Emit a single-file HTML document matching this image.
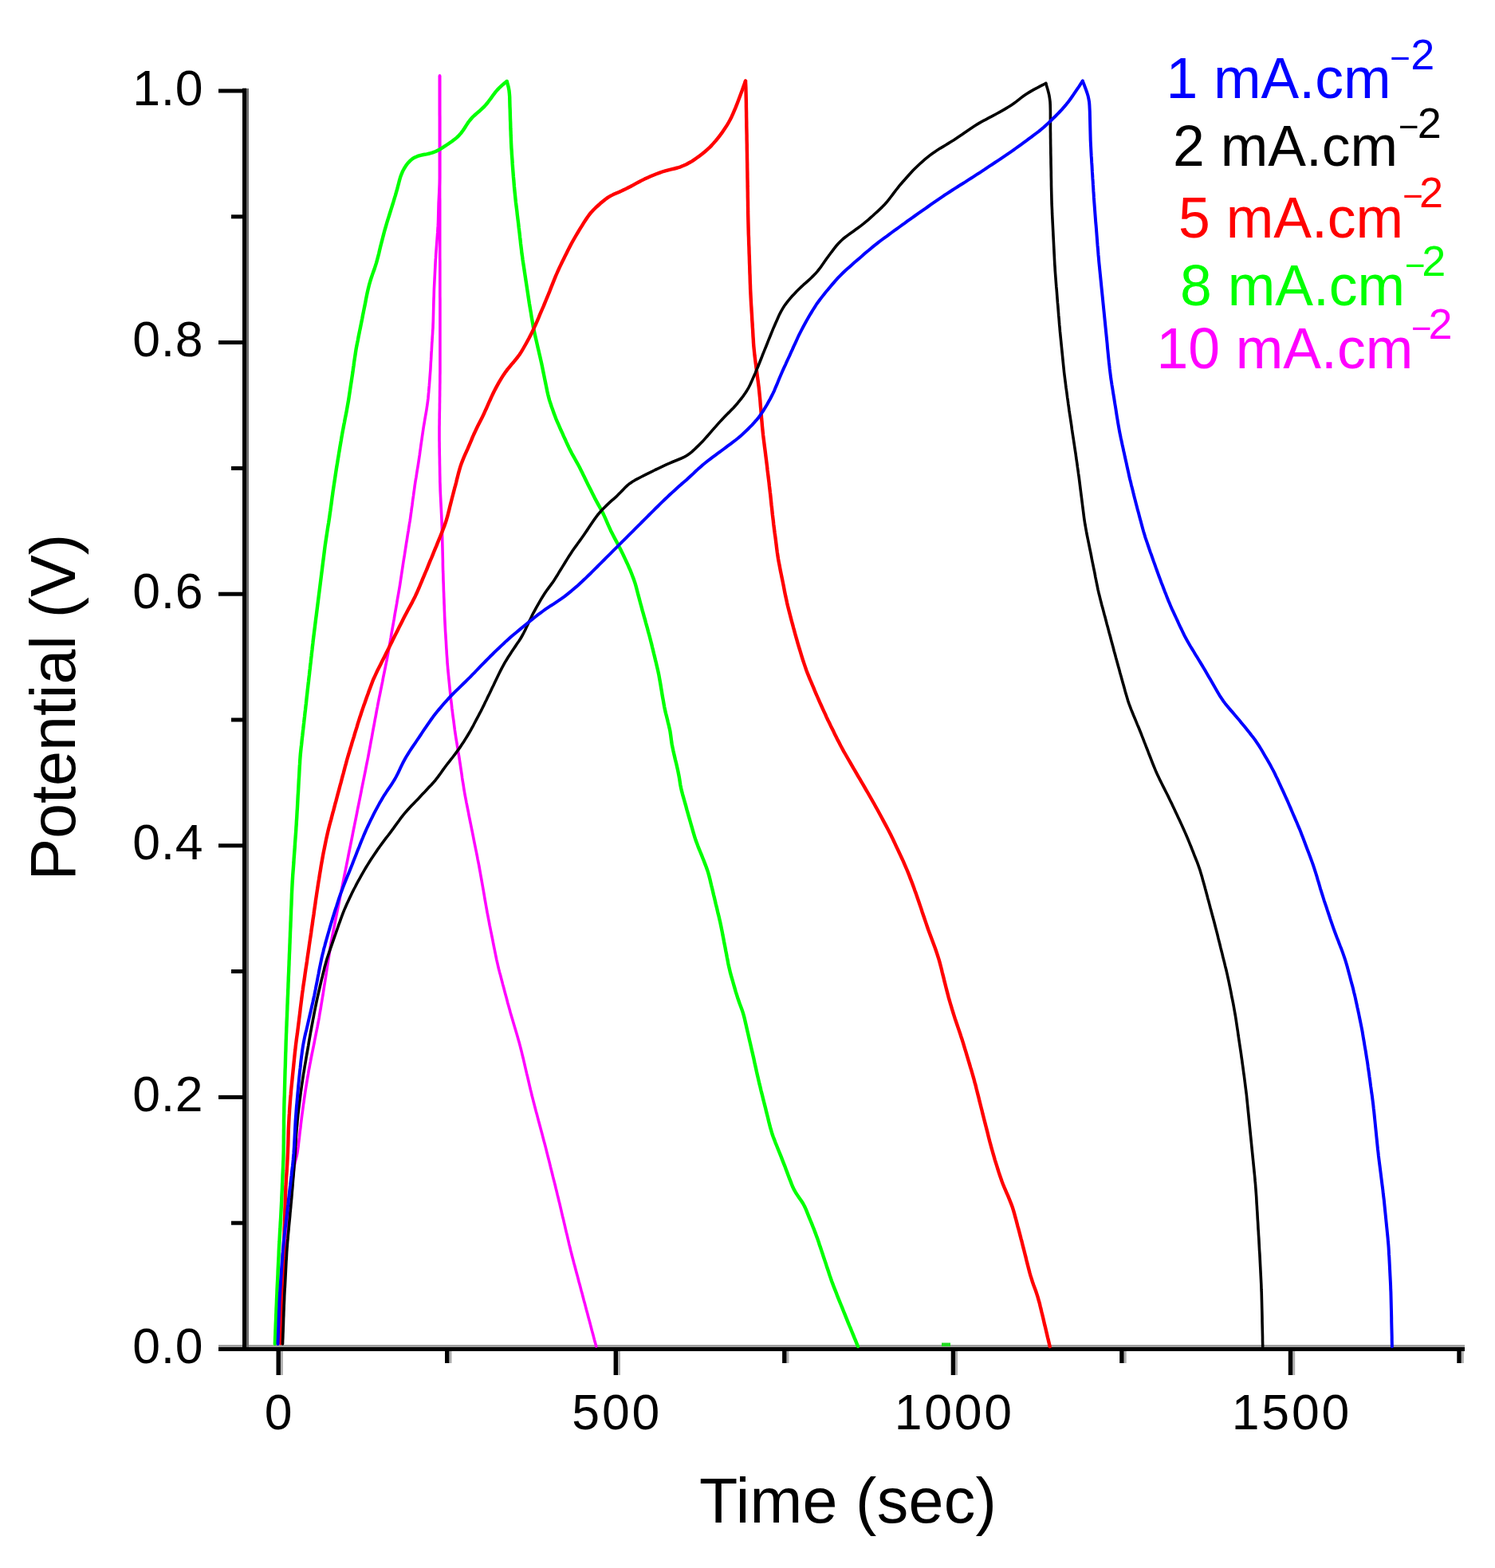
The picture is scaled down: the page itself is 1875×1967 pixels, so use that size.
<!DOCTYPE html>
<html><head><meta charset="utf-8"><style>
html,body{margin:0;padding:0;background:#fff;}
svg{display:block;}
text{font-family:"Liberation Sans",Arial,sans-serif;}
.tl{font-size:62.5px;fill:#000;}
.xl{letter-spacing:2.8px;}
.al{font-size:79px;fill:#000;}
.lg{font-size:71.5px;}
.mn{font-size:44px;}
.sp{font-size:54px;}
</style></head><body>
<svg xmlns="http://www.w3.org/2000/svg" width="1875" height="1967" viewBox="0 0 1875 1967">
<rect width="1875" height="1967" fill="#fff"/>
<rect x="274" y="1687" width="1563" height="3" fill="#a0a0a0"/>
<rect x="309" y="111" width="3" height="1579" fill="#6b6b6b"/>
<rect x="304" y="110.7" width="5" height="1584.3" fill="#000"/>
<rect x="274" y="1690" width="1563" height="5" fill="#000"/>
<text x="255" y="1709.6" text-anchor="end" class="tl" letter-spacing="0.6">0.0</text>
<rect x="290" y="1531.7" width="16" height="5" fill="#000"/>
<rect x="274" y="1373.9" width="32" height="5" fill="#000"/>
<text x="255" y="1394.0" text-anchor="end" class="tl" letter-spacing="0.6">0.2</text>
<rect x="290" y="1216.1" width="16" height="5" fill="#000"/>
<rect x="274" y="1058.3" width="32" height="5" fill="#000"/>
<text x="255" y="1078.4" text-anchor="end" class="tl" letter-spacing="0.6">0.4</text>
<rect x="290" y="900.5" width="16" height="5" fill="#000"/>
<rect x="274" y="742.7" width="32" height="5" fill="#000"/>
<text x="255" y="762.8" text-anchor="end" class="tl" letter-spacing="0.6">0.6</text>
<rect x="290" y="584.9" width="16" height="5" fill="#000"/>
<rect x="274" y="427.1" width="32" height="5" fill="#000"/>
<text x="255" y="447.2" text-anchor="end" class="tl" letter-spacing="0.6">0.8</text>
<rect x="290" y="269.3" width="16" height="5" fill="#000"/>
<rect x="274" y="111.5" width="32" height="5" fill="#000"/>
<text x="255" y="131.6" text-anchor="end" class="tl" letter-spacing="0.6">1.0</text>
<rect x="351.9" y="1695" width="3" height="30" fill="#b0b0b0"/>
<rect x="346.5" y="1695" width="5.4" height="30" fill="#000"/>
<text x="350.6" y="1793" text-anchor="middle" class="tl xl">0</text>
<rect x="563.5" y="1695" width="3" height="15" fill="#b0b0b0"/>
<rect x="558.0" y="1695" width="5.4" height="15" fill="#000"/>
<rect x="775.0" y="1695" width="3" height="30" fill="#b0b0b0"/>
<rect x="769.6" y="1695" width="5.4" height="30" fill="#000"/>
<text x="773.7" y="1793" text-anchor="middle" class="tl xl">500</text>
<rect x="986.5" y="1695" width="3" height="15" fill="#b0b0b0"/>
<rect x="981.1" y="1695" width="5.4" height="15" fill="#000"/>
<rect x="1198.1" y="1695" width="3" height="30" fill="#b0b0b0"/>
<rect x="1192.7" y="1695" width="5.4" height="30" fill="#000"/>
<text x="1196.8" y="1793" text-anchor="middle" class="tl xl">1000</text>
<rect x="1409.7" y="1695" width="3" height="15" fill="#b0b0b0"/>
<rect x="1404.2" y="1695" width="5.4" height="15" fill="#000"/>
<rect x="1621.2" y="1695" width="3" height="30" fill="#b0b0b0"/>
<rect x="1615.8" y="1695" width="5.4" height="30" fill="#000"/>
<text x="1619.9" y="1793" text-anchor="middle" class="tl xl">1500</text>
<rect x="1832.8" y="1695" width="3" height="15" fill="#b0b0b0"/>
<rect x="1827.3" y="1695" width="5.4" height="15" fill="#000"/>
<text transform="translate(94.2,887.2) rotate(-90)" text-anchor="middle" class="al">Potential (V)</text>
<text x="1063.6" y="1909.5" text-anchor="middle" class="al" letter-spacing="0.3">Time (sec)</text>
<rect x="1181" y="1684.5" width="11" height="4.5" fill="#22dd22"/>
<path d="M352.0,1685.3L352.2,1681.3L352.5,1677.3L352.7,1673.3L353.0,1669.3L353.2,1665.3L353.4,1661.3L353.7,1657.3L353.9,1653.3L354.1,1649.3L354.4,1645.3L354.6,1641.3L354.9,1637.3L355.1,1633.3L355.3,1629.3L355.6,1625.3L355.8,1621.3L356.1,1617.3L356.3,1613.3L356.5,1609.3L356.8,1605.3L357.0,1601.3L357.2,1597.3L357.5,1593.3L357.7,1589.3L358.0,1585.3L358.2,1581.3L358.4,1577.3L358.7,1573.3L358.9,1569.3L359.2,1565.3L359.4,1561.3L359.7,1557.3L360.0,1553.3L360.3,1549.3L360.7,1545.4L361.1,1541.4L361.5,1537.4L361.9,1533.4L362.3,1529.4L362.7,1525.4L363.1,1521.4L363.5,1517.5L363.9,1513.5L364.3,1509.5L364.7,1505.5L365.1,1501.5L365.5,1497.5L365.9,1493.5L366.3,1489.5L366.7,1485.6L367.1,1481.6L367.5,1477.6L367.9,1473.6L368.3,1469.6L368.7,1465.7L369.3,1461.7L370.1,1457.8L371.1,1454.0L372.1,1450.1L372.9,1446.2L373.5,1442.3L374.1,1438.3L374.5,1434.4L375.0,1430.4L375.5,1426.4L375.9,1422.4L376.4,1418.4L376.9,1414.5L377.3,1410.5L377.8,1406.5L378.3,1402.5L378.8,1398.6L379.4,1394.6L379.9,1390.6L380.4,1386.6L381.0,1382.7L381.5,1378.7L382.1,1374.7L382.7,1370.8L383.3,1366.8L383.9,1362.9L384.6,1358.9L385.2,1355.0L385.9,1351.0L386.6,1347.1L387.2,1343.1L388.0,1339.2L388.7,1335.2L389.5,1331.3L390.2,1327.4L391.0,1323.4L391.8,1319.5L392.6,1315.6L393.4,1311.7L394.2,1307.7L394.9,1303.8L395.7,1299.9L396.5,1295.9L397.3,1292.0L398.1,1288.1L398.8,1284.1L399.6,1280.2L400.3,1276.3L400.9,1272.3L401.6,1268.4L402.3,1264.4L402.9,1260.5L403.6,1256.5L404.2,1252.6L404.9,1248.6L405.5,1244.7L406.1,1240.7L406.7,1236.7L407.4,1232.8L408.0,1228.8L408.6,1224.9L409.2,1220.9L409.8,1216.9L410.4,1213.0L411.0,1209.0L411.6,1205.1L412.3,1201.1L412.9,1197.1L413.5,1193.2L414.1,1189.2L414.7,1185.3L415.4,1181.3L416.2,1177.4L416.9,1173.5L417.7,1169.5L418.5,1165.6L419.3,1161.7L420.1,1157.7L420.8,1153.8L421.6,1149.9L422.4,1146.0L423.2,1142.0L424.0,1138.1L424.8,1134.2L425.6,1130.2L426.3,1126.3L427.1,1122.4L427.9,1118.5L428.7,1114.5L429.5,1110.6L430.3,1106.7L431.1,1102.7L431.8,1098.8L432.6,1094.9L433.4,1091.0L434.2,1087.0L435.0,1083.1L435.8,1079.2L436.6,1075.2L437.3,1071.3L438.1,1067.4L438.9,1063.5L439.7,1059.5L440.5,1055.6L441.3,1051.7L442.1,1047.7L442.8,1043.8L443.6,1039.9L444.4,1036.0L445.2,1032.0L446.0,1028.1L446.8,1024.2L447.6,1020.2L448.3,1016.3L449.1,1012.4L449.9,1008.5L450.7,1004.5L451.5,1000.6L452.3,996.7L453.1,992.7L453.8,988.8L454.6,984.9L455.4,981.0L456.2,977.0L457.0,973.1L457.8,969.2L458.6,965.2L459.3,961.3L460.1,957.4L460.9,953.5L461.7,949.5L462.4,945.6L463.1,941.7L463.9,937.7L464.6,933.8L465.3,929.8L466.1,925.9L466.8,922.0L467.5,918.0L468.2,914.1L469.0,910.1L469.7,906.2L470.4,902.3L471.2,898.3L471.9,894.4L472.6,890.4L473.4,886.5L474.1,882.6L474.9,878.6L475.7,874.7L476.5,870.8L477.3,866.9L478.1,862.9L478.9,859.0L479.7,855.1L480.4,851.1L481.2,847.2L482.0,843.3L482.8,839.4L483.6,835.4L484.4,831.5L485.2,827.6L485.9,823.6L486.7,819.7L487.4,815.8L488.1,811.8L488.8,807.9L489.5,803.9L490.2,800.0L490.8,796.0L491.5,792.1L492.2,788.1L492.9,784.2L493.6,780.2L494.3,776.3L494.9,772.4L495.6,768.4L496.3,764.5L497.0,760.5L497.7,756.6L498.3,752.6L499.0,748.7L499.7,744.7L500.4,740.8L501.1,736.8L501.7,732.9L502.3,728.9L502.9,724.9L503.5,721.0L504.1,717.0L504.7,713.1L505.3,709.1L505.9,705.1L506.5,701.2L507.2,697.2L507.8,693.3L508.4,689.3L509.0,685.4L509.6,681.4L510.3,677.4L510.9,673.5L511.5,669.5L512.2,665.6L512.8,661.6L513.4,657.7L514.1,653.7L514.7,649.7L515.2,645.8L515.8,641.8L516.3,637.8L516.9,633.9L517.4,629.9L517.9,625.9L518.5,622.0L519.0,618.0L519.6,614.0L520.1,610.1L520.7,606.1L521.3,602.1L522.0,598.2L522.6,594.2L523.2,590.3L523.9,586.3L524.5,582.4L525.1,578.4L525.7,574.4L526.3,570.5L526.8,566.5L527.4,562.5L527.9,558.6L528.5,554.6L529.1,550.6L529.6,546.7L530.2,542.7L530.8,538.7L531.4,534.8L532.1,530.8L532.7,526.9L533.4,522.9L534.1,519.0L534.8,515.0L535.4,511.1L536.0,507.1L536.5,503.2L537.0,499.2L537.3,495.2L537.7,491.2L538.0,487.2L538.4,483.2L538.7,479.2L539.0,475.2L539.3,471.2L539.6,467.2L539.9,463.2L540.1,459.2L540.3,455.2L540.6,451.2L540.8,447.2L541.0,443.2L541.3,439.2L541.5,435.2L541.7,431.2L542.0,427.2L542.2,423.2L542.5,419.3L542.7,415.3L543.0,411.3L543.1,407.3L543.3,403.2L543.4,399.2L543.5,395.2L543.6,391.2L543.7,387.2L543.8,383.2L543.9,379.2L544.0,375.2L544.2,371.2L544.3,367.2L544.4,363.2L544.6,359.2L544.8,355.2L545.0,351.2L545.2,347.2L545.4,343.2L545.6,339.2L545.8,335.2L546.0,331.2L546.2,327.2L546.5,323.2L546.7,319.2L547.0,315.2L547.3,311.2L547.6,307.2L547.9,303.2L548.2,299.2L548.5,295.2L548.8,291.2L549.0,287.2L549.3,283.2L549.5,279.2L549.6,275.2L549.7,271.2L549.8,267.2L549.9,263.2L550.0,259.2L550.1,255.2L550.3,251.2L550.5,247.2L550.7,243.2L550.9,239.2L551.1,235.2L551.3,231.2L551.4,227.2L551.5,223.2L551.5,219.2L551.5,215.2L551.5,211.2L551.5,207.2L551.5,203.2L551.5,199.2L551.5,195.2L551.5,191.1L551.5,187.1L551.5,183.1L551.5,179.1L551.5,175.1L551.5,171.1L551.5,167.1L551.5,163.1L551.5,159.1L551.5,155.1L551.5,151.1L551.5,147.1L551.5,143.1L551.5,139.1L551.5,135.1L551.5,131.1L551.5,127.0L551.5,123.0L551.5,119.0L551.5,115.0L551.5,111.0L551.5,107.0L551.5,103.0L551.5,99.0L551.5,95.0" fill="none" stroke="#ff00ff" stroke-width="3.6" stroke-linejoin="round" stroke-linecap="round"/>
<path d="M551.5,95.0L551.5,99.0L551.5,103.0L551.5,107.0L551.5,111.0L551.5,115.0L551.5,119.1L551.5,123.1L551.5,127.1L551.5,131.1L551.5,135.1L551.5,139.1L551.5,143.1L551.6,147.1L551.6,151.1L551.6,155.1L551.6,159.1L551.6,163.1L551.6,167.2L551.6,171.2L551.6,175.2L551.6,179.2L551.6,183.2L551.6,187.2L551.6,191.2L551.6,195.2L551.6,199.2L551.6,203.2L551.6,207.2L551.6,211.2L551.6,215.3L551.6,219.3L551.6,223.3L551.6,227.3L551.6,231.3L551.6,235.3L551.6,239.3L551.6,243.3L551.6,247.3L551.7,251.3L551.7,255.3L551.7,259.4L551.7,263.4L551.7,267.4L551.7,271.4L551.7,275.4L551.7,279.4L551.7,283.4L551.7,287.4L551.7,291.4L551.7,295.4L551.7,299.4L551.7,303.4L551.7,307.5L551.7,311.5L551.7,315.5L551.7,319.5L551.7,323.5L551.8,327.5L551.8,331.5L551.8,335.5L551.8,339.5L551.8,343.5L551.8,347.5L551.8,351.5L551.8,355.6L551.8,359.6L551.8,363.6L551.8,367.6L551.8,371.6L551.9,375.6L551.9,379.6L551.9,383.6L551.9,387.6L551.9,391.6L551.9,395.6L551.9,399.6L551.9,403.7L551.9,407.7L551.9,411.7L551.9,415.7L551.9,419.7L551.9,423.7L551.9,427.7L551.9,431.7L551.9,435.7L551.9,439.7L551.9,443.7L551.9,447.8L551.9,451.8L551.9,455.8L551.9,459.8L551.9,463.8L551.9,467.8L551.8,471.8L551.8,475.8L551.8,479.8L551.7,483.8L551.7,487.8L551.6,491.8L551.6,495.9L551.5,499.9L551.5,503.9L551.4,507.9L551.4,511.9L551.3,515.9L551.2,519.9L551.2,523.9L551.1,527.9L551.1,531.9L551.0,535.9L551.0,539.9L551.0,544.0L551.0,548.0L551.0,552.0L551.1,556.0L551.1,560.0L551.2,564.0L551.2,568.0L551.3,572.0L551.4,576.0L551.4,580.0L551.5,584.0L551.6,588.0L551.6,592.0L551.7,596.1L551.8,600.1L551.8,604.1L552.0,608.1L552.1,612.1L552.2,616.1L552.4,620.1L552.6,624.1L552.8,628.1L553.0,632.1L553.2,636.1L553.4,640.1L553.6,644.1L553.8,648.1L554.0,652.1L554.1,656.1L554.3,660.1L554.4,664.1L554.5,668.1L554.6,672.2L554.7,676.2L554.8,680.2L554.9,684.2L555.0,688.2L555.1,692.2L555.2,696.2L555.3,700.2L555.4,704.2L555.4,708.2L555.5,712.2L555.6,716.2L555.8,720.2L555.9,724.2L556.0,728.3L556.2,732.3L556.3,736.3L556.4,740.3L556.6,744.3L556.7,748.3L556.9,752.3L557.0,756.3L557.2,760.3L557.3,764.3L557.5,768.3L557.6,772.3L557.8,776.3L558.0,780.3L558.2,784.3L558.4,788.3L558.6,792.3L558.9,796.3L559.1,800.3L559.4,804.3L559.6,808.3L559.8,812.3L560.1,816.3L560.3,820.3L560.6,824.3L560.9,828.3L561.1,832.3L561.5,836.3L561.8,840.3L562.2,844.3L562.6,848.3L563.0,852.3L563.4,856.3L563.8,860.3L564.2,864.3L564.6,868.3L565.0,872.2L565.4,876.2L565.9,880.2L566.4,884.2L566.8,888.2L567.3,892.1L567.8,896.1L568.3,900.1L568.9,904.1L569.4,908.0L569.9,912.0L570.4,916.0L571.0,920.0L571.6,923.9L572.2,927.9L572.9,931.8L573.5,935.8L574.2,939.7L574.8,943.7L575.5,947.7L576.1,951.6L576.7,955.6L577.3,959.5L577.9,963.5L578.5,967.5L579.1,971.4L579.6,975.4L580.2,979.4L580.9,983.3L581.5,987.3L582.1,991.2L582.8,995.2L583.5,999.1L584.3,1003.1L585.0,1007.0L585.8,1010.9L586.6,1014.9L587.4,1018.8L588.1,1022.7L588.9,1026.7L589.7,1030.6L590.5,1034.5L591.3,1038.5L592.1,1042.4L592.9,1046.3L593.7,1050.3L594.4,1054.2L595.2,1058.1L596.0,1062.0L596.8,1066.0L597.6,1069.9L598.4,1073.8L599.1,1077.8L599.9,1081.7L600.7,1085.6L601.4,1089.6L602.1,1093.5L602.8,1097.5L603.5,1101.4L604.2,1105.4L604.9,1109.3L605.6,1113.3L606.3,1117.2L607.0,1121.2L607.6,1125.1L608.3,1129.1L609.0,1133.0L609.7,1137.0L610.4,1140.9L611.1,1144.9L611.9,1148.8L612.6,1152.7L613.4,1156.7L614.1,1160.6L614.9,1164.5L615.7,1168.5L616.5,1172.4L617.3,1176.3L618.1,1180.3L618.8,1184.2L619.6,1188.1L620.4,1192.0L621.2,1196.0L622.0,1199.9L622.8,1203.8L623.7,1207.7L624.6,1211.6L625.5,1215.5L626.5,1219.4L627.6,1223.3L628.6,1227.2L629.6,1231.0L630.6,1234.9L631.7,1238.8L632.7,1242.7L633.7,1246.5L634.8,1250.4L635.8,1254.3L636.8,1258.2L637.9,1262.0L639.0,1265.9L640.0,1269.8L641.1,1273.6L642.3,1277.5L643.4,1281.3L644.5,1285.1L645.7,1289.0L646.8,1292.8L648.0,1296.7L649.1,1300.5L650.2,1304.4L651.3,1308.2L652.3,1312.1L653.3,1316.0L654.3,1319.9L655.2,1323.8L656.2,1327.7L657.1,1331.6L658.0,1335.5L658.9,1339.4L659.8,1343.3L660.7,1347.2L661.7,1351.1L662.6,1355.0L663.5,1358.9L664.4,1362.8L665.3,1366.7L666.3,1370.6L667.2,1374.5L668.2,1378.4L669.2,1382.2L670.2,1386.1L671.2,1390.0L672.2,1393.9L673.3,1397.7L674.3,1401.6L675.3,1405.5L676.4,1409.4L677.4,1413.2L678.4,1417.1L679.5,1421.0L680.5,1424.9L681.5,1428.7L682.5,1432.6L683.6,1436.5L684.6,1440.4L685.5,1444.2L686.5,1448.1L687.5,1452.0L688.5,1455.9L689.5,1459.8L690.4,1463.7L691.4,1467.6L692.4,1471.5L693.3,1475.4L694.3,1479.2L695.3,1483.1L696.3,1487.0L697.2,1490.9L698.2,1494.8L699.1,1498.7L700.1,1502.6L701.0,1506.5L702.0,1510.4L702.9,1514.3L703.8,1518.2L704.7,1522.1L705.6,1526.0L706.6,1529.9L707.5,1533.8L708.4,1537.7L709.3,1541.6L710.2,1545.5L711.2,1549.4L712.1,1553.3L713.0,1557.2L713.9,1561.1L714.9,1565.0L715.8,1568.9L716.8,1572.8L717.8,1576.7L718.8,1580.5L719.8,1584.4L720.9,1588.3L721.9,1592.2L722.9,1596.0L724.0,1599.9L725.0,1603.8L726.0,1607.7L727.1,1611.5L728.1,1615.4L729.1,1619.3L730.2,1623.1L731.2,1627.0L732.2,1630.9L733.3,1634.8L734.3,1638.6L735.3,1642.5L736.4,1646.4L737.4,1650.3L738.4,1654.1L739.5,1658.0L740.5,1661.9L741.5,1665.8L742.5,1669.6L743.6,1673.5L744.6,1677.4L745.6,1681.3L746.7,1685.1L747.7,1689.0" fill="none" stroke="#ff00ff" stroke-width="3.6" stroke-linejoin="round" stroke-linecap="round"/>
<path d="M344.8,1686.0L345.0,1682.0L345.1,1678.0L345.3,1674.0L345.4,1670.0L345.6,1666.0L345.7,1662.0L345.9,1658.0L346.1,1654.0L346.2,1650.0L346.4,1646.0L346.5,1642.0L346.7,1638.0L346.9,1634.0L347.0,1630.0L347.2,1626.0L347.4,1622.0L347.5,1618.0L347.7,1614.0L347.9,1610.0L348.1,1606.0L348.3,1602.0L348.5,1598.0L348.6,1594.0L348.8,1590.0L349.0,1586.0L349.2,1582.0L349.4,1578.0L349.6,1574.0L349.7,1570.0L349.9,1566.0L350.1,1562.0L350.4,1558.0L350.6,1554.0L350.8,1550.0L351.0,1546.0L351.3,1542.0L351.5,1538.0L351.7,1534.0L352.0,1530.0L352.2,1526.0L352.4,1522.0L352.6,1518.0L352.8,1514.0L353.0,1510.1L353.2,1506.1L353.3,1502.1L353.5,1498.1L353.7,1494.1L353.9,1490.1L354.0,1486.1L354.2,1482.1L354.4,1478.1L354.5,1474.1L354.7,1470.1L354.9,1466.1L355.1,1462.1L355.2,1458.1L355.4,1454.1L355.5,1450.1L355.6,1446.1L355.7,1442.1L355.7,1438.0L355.8,1434.0L355.8,1430.0L355.8,1426.0L355.9,1422.0L355.9,1418.0L356.0,1414.0L356.0,1410.0L356.0,1406.0L356.1,1402.0L356.2,1398.0L356.3,1394.0L356.3,1390.0L356.4,1386.0L356.5,1382.0L356.6,1378.0L356.8,1374.0L356.9,1370.0L357.0,1366.0L357.1,1362.0L357.2,1358.0L357.3,1354.0L357.4,1350.0L357.5,1346.0L357.6,1342.0L357.8,1338.0L357.9,1334.0L358.0,1330.0L358.1,1326.0L358.2,1322.0L358.4,1318.0L358.5,1314.0L358.6,1310.0L358.7,1306.0L358.9,1302.0L359.0,1298.0L359.2,1294.0L359.3,1290.0L359.5,1286.0L359.6,1282.0L359.8,1278.0L360.0,1274.0L360.1,1270.0L360.3,1266.0L360.4,1262.0L360.6,1258.0L360.7,1254.0L360.9,1250.0L361.1,1246.0L361.2,1242.0L361.4,1238.0L361.5,1234.0L361.7,1230.0L361.8,1226.0L362.0,1222.0L362.2,1218.0L362.3,1214.0L362.5,1210.0L362.6,1206.0L362.8,1202.0L362.9,1198.0L363.1,1194.0L363.3,1190.0L363.4,1186.0L363.6,1182.0L363.7,1178.0L363.9,1174.0L364.0,1170.0L364.2,1166.0L364.4,1162.0L364.5,1158.0L364.7,1154.0L364.8,1150.0L365.0,1146.0L365.1,1142.0L365.3,1138.0L365.5,1134.0L365.6,1130.0L365.8,1126.0L365.9,1122.0L366.1,1118.0L366.3,1114.0L366.5,1110.0L366.7,1106.0L367.0,1102.0L367.2,1098.0L367.5,1094.0L367.8,1090.0L368.1,1086.0L368.4,1082.0L368.6,1078.0L368.9,1074.0L369.2,1070.0L369.5,1066.0L369.8,1062.0L370.0,1058.1L370.3,1054.1L370.6,1050.1L370.9,1046.1L371.2,1042.1L371.4,1038.1L371.7,1034.1L371.9,1030.1L372.2,1026.1L372.4,1022.1L372.6,1018.1L372.9,1014.1L373.1,1010.1L373.3,1006.1L373.5,1002.1L373.7,998.1L374.0,994.1L374.2,990.1L374.4,986.1L374.6,982.1L374.8,978.1L375.1,974.1L375.3,970.1L375.5,966.1L375.7,962.1L376.0,958.2L376.2,954.2L376.5,950.2L376.8,946.2L377.2,942.2L377.6,938.2L378.1,934.2L378.5,930.3L378.9,926.3L379.4,922.3L379.8,918.3L380.3,914.3L380.7,910.4L381.2,906.4L381.6,902.4L382.1,898.4L382.5,894.4L383.0,890.5L383.4,886.5L383.9,882.5L384.3,878.5L384.7,874.6L385.2,870.6L385.6,866.6L386.1,862.6L386.5,858.6L387.0,854.7L387.4,850.7L387.9,846.7L388.3,842.7L388.8,838.8L389.2,834.8L389.7,830.8L390.1,826.8L390.6,822.8L391.0,818.9L391.5,814.9L391.9,810.9L392.4,806.9L392.8,803.0L393.3,799.0L393.8,795.0L394.3,791.0L394.8,787.1L395.3,783.1L395.8,779.1L396.3,775.1L396.8,771.2L397.3,767.2L397.8,763.2L398.3,759.3L398.8,755.3L399.3,751.3L399.8,747.3L400.3,743.4L400.8,739.4L401.3,735.4L401.8,731.5L402.3,727.5L402.8,723.5L403.3,719.5L403.8,715.6L404.3,711.6L404.8,707.6L405.3,703.6L405.8,699.7L406.3,695.7L406.8,691.7L407.3,687.8L407.8,683.8L408.4,679.8L409.0,675.9L409.6,671.9L410.2,668.0L410.8,664.0L411.4,660.1L412.1,656.1L412.7,652.1L413.3,648.2L413.8,644.2L414.4,640.3L414.9,636.3L415.5,632.3L416.0,628.4L416.5,624.4L417.1,620.4L417.6,616.5L418.2,612.5L418.8,608.5L419.4,604.6L420.0,600.6L420.6,596.7L421.2,592.7L421.8,588.7L422.4,584.8L423.1,580.8L423.7,576.9L424.4,572.9L425.0,569.0L425.7,565.0L426.3,561.1L427.0,557.1L427.7,553.2L428.3,549.3L429.0,545.3L429.7,541.4L430.5,537.4L431.2,533.5L432.0,529.6L432.7,525.6L433.5,521.7L434.3,517.8L435.0,513.9L435.7,509.9L436.4,506.0L437.1,502.0L437.7,498.1L438.3,494.1L438.9,490.2L439.5,486.2L440.1,482.2L440.7,478.3L441.3,474.3L441.9,470.4L442.5,466.4L443.0,462.4L443.6,458.5L444.1,454.5L444.7,450.5L445.3,446.6L445.9,442.6L446.5,438.7L447.2,434.7L448.0,430.8L448.8,426.9L449.5,423.0L450.3,419.0L451.1,415.1L451.9,411.2L452.7,407.3L453.5,403.3L454.3,399.4L455.0,395.5L455.8,391.6L456.6,387.6L457.4,383.7L458.2,379.8L458.9,375.8L459.7,371.9L460.5,368.0L461.4,364.1L462.3,360.2L463.3,356.3L464.4,352.5L465.6,348.7L466.9,344.9L468.2,341.1L469.6,337.4L470.8,333.6L472.0,329.8L473.1,325.9L474.1,322.1L475.1,318.2L476.0,314.3L476.9,310.4L477.9,306.5L478.9,302.6L479.9,298.7L480.9,294.9L481.9,291.0L483.0,287.1L484.1,283.3L485.2,279.5L486.4,275.6L487.6,271.8L488.8,268.0L490.0,264.2L491.2,260.4L492.4,256.5L493.6,252.7L494.7,248.9L495.9,245.1L497.0,241.2L498.1,237.4L499.1,233.5L500.1,229.7L501.1,225.8L502.2,222.0L503.6,218.3L505.1,214.7L507.0,211.2L509.1,207.9L511.4,204.8L514.1,201.9L517.0,199.4L520.2,197.4L523.7,195.9L527.4,194.8L531.2,194.0L535.1,193.3L538.9,192.5L542.7,191.4L546.4,190.0L549.9,188.3L553.3,186.3L556.7,184.2L560.0,182.0L563.3,179.7L566.6,177.5L569.8,175.1L572.8,172.6L575.7,169.8L578.3,166.9L580.6,163.8L582.8,160.5L584.9,157.1L587.1,153.8L589.4,150.7L592.0,147.7L594.8,145.0L597.7,142.4L600.8,139.8L603.7,137.2L606.6,134.4L609.3,131.5L611.8,128.5L614.2,125.3L616.6,122.1L618.9,118.8L621.3,115.7L623.9,112.6L626.6,109.8L629.5,107.1L632.6,104.5L635.7,102.1" fill="none" stroke="#00ff00" stroke-width="4.4" stroke-linejoin="round" stroke-linecap="round"/>
<path d="M635.7,102.1L636.8,105.9L637.8,109.8L638.5,113.7L638.9,117.6L639.2,121.6L639.3,125.6L639.4,129.6L639.5,133.6L639.7,137.7L639.8,141.7L639.9,145.7L640.0,149.7L640.2,153.7L640.3,157.7L640.4,161.7L640.6,165.7L640.7,169.7L640.9,173.7L641.0,177.7L641.2,181.7L641.4,185.7L641.7,189.7L641.9,193.7L642.2,197.7L642.5,201.7L642.7,205.7L643.0,209.7L643.3,213.7L643.6,217.7L643.9,221.7L644.3,225.7L644.6,229.7L644.9,233.7L645.3,237.7L645.7,241.7L646.1,245.7L646.5,249.7L646.9,253.7L647.4,257.6L647.9,261.6L648.4,265.6L648.8,269.6L649.3,273.6L649.8,277.5L650.3,281.5L650.7,285.5L651.2,289.5L651.7,293.5L652.1,297.5L652.6,301.4L653.0,305.4L653.5,309.4L654.0,313.4L654.4,317.4L655.0,321.3L655.5,325.3L656.1,329.3L656.7,333.2L657.3,337.2L657.9,341.2L658.5,345.1L659.1,349.1L659.7,353.1L660.3,357.0L660.9,361.0L661.5,365.0L662.1,368.9L662.7,372.9L663.3,376.8L663.9,380.8L664.6,384.8L665.2,388.7L665.9,392.7L666.5,396.6L667.2,400.6L667.9,404.5L668.6,408.5L669.3,412.4L670.1,416.3L671.0,420.3L671.9,424.2L672.8,428.1L673.7,432.0L674.6,435.9L675.5,439.8L676.4,443.7L677.3,447.6L678.2,451.5L679.1,455.4L679.9,459.3L680.7,463.3L681.5,467.2L682.3,471.1L683.1,475.1L683.9,479.0L684.7,482.9L685.5,486.8L686.3,490.8L687.2,494.7L688.2,498.6L689.2,502.4L690.5,506.2L691.7,510.0L693.1,513.8L694.4,517.6L695.8,521.3L697.2,525.1L698.8,528.8L700.4,532.4L702.0,536.1L703.6,539.8L705.3,543.4L706.9,547.1L708.6,550.7L710.2,554.4L711.9,558.0L713.6,561.7L715.4,565.3L717.2,568.8L719.2,572.3L721.1,575.8L723.1,579.3L725.0,582.8L726.9,586.3L728.7,589.9L730.5,593.5L732.2,597.1L734.0,600.7L735.7,604.3L737.5,607.9L739.3,611.5L741.1,615.1L742.9,618.7L744.7,622.3L746.5,625.9L748.4,629.4L750.3,632.9L752.3,636.4L754.2,639.9L756.1,643.5L757.8,647.1L759.4,650.7L761.0,654.4L762.6,658.1L764.2,661.7L765.9,665.4L767.7,669.0L769.5,672.5L771.4,676.1L773.3,679.6L775.1,683.2L777.0,686.7L778.8,690.3L780.6,693.9L782.3,697.5L784.0,701.1L785.7,704.7L787.4,708.4L789.0,712.1L790.6,715.7L792.1,719.5L793.5,723.2L794.9,726.9L796.2,730.7L797.4,734.6L798.4,738.4L799.4,742.3L800.4,746.2L801.5,750.1L802.5,754.0L803.5,757.8L804.6,761.7L805.6,765.6L806.7,769.4L807.8,773.3L808.9,777.1L809.9,781.0L811.0,784.9L812.1,788.7L813.1,792.6L814.2,796.5L815.2,800.3L816.2,804.2L817.2,808.1L818.1,812.0L819.1,815.9L820.0,819.8L821.0,823.7L821.9,827.6L822.9,831.5L823.8,835.4L824.7,839.3L825.6,843.2L826.4,847.1L827.1,851.1L827.8,855.0L828.5,859.0L829.1,862.9L829.8,866.9L830.4,870.8L831.1,874.8L831.8,878.7L832.5,882.7L833.2,886.6L834.0,890.5L834.9,894.5L835.9,898.3L836.9,902.2L837.8,906.1L838.8,910.0L839.7,913.9L840.5,917.8L841.1,921.8L841.6,925.7L842.1,929.7L842.7,933.7L843.5,937.6L844.3,941.5L845.2,945.4L846.1,949.3L847.0,953.2L848.0,957.1L848.9,961.0L849.8,964.9L850.6,968.8L851.4,972.8L852.1,976.7L852.7,980.7L853.3,984.6L854.1,988.5L855.0,992.4L856.0,996.3L857.1,1000.2L858.2,1004.0L859.3,1007.9L860.4,1011.7L861.4,1015.6L862.5,1019.4L863.6,1023.3L864.7,1027.2L865.8,1031.0L866.9,1034.9L868.0,1038.7L869.1,1042.6L870.2,1046.4L871.4,1050.3L872.6,1054.1L874.0,1057.8L875.4,1061.6L876.9,1065.3L878.4,1069.0L879.9,1072.7L881.4,1076.5L882.9,1080.2L884.3,1083.9L885.8,1087.7L887.1,1091.4L888.3,1095.2L889.4,1099.1L890.4,1103.0L891.3,1106.9L892.2,1110.8L893.2,1114.7L894.1,1118.6L895.0,1122.5L896.0,1126.4L896.9,1130.3L897.8,1134.2L898.8,1138.1L899.7,1142.0L900.6,1145.9L901.6,1149.8L902.5,1153.7L903.4,1157.6L904.2,1161.5L905.0,1165.4L905.8,1169.4L906.5,1173.3L907.3,1177.2L908.0,1181.2L908.8,1185.1L909.6,1189.1L910.3,1193.0L911.1,1196.9L911.8,1200.9L912.6,1204.8L913.3,1208.7L914.2,1212.7L915.1,1216.6L916.0,1220.4L917.1,1224.3L918.2,1228.2L919.3,1232.0L920.4,1235.9L921.5,1239.7L922.6,1243.6L923.8,1247.4L925.0,1251.2L926.3,1255.0L927.6,1258.8L929.0,1262.5L930.4,1266.3L931.7,1270.1L932.8,1273.9L933.8,1277.8L934.7,1281.7L935.6,1285.6L936.5,1289.5L937.4,1293.4L938.3,1297.3L939.2,1301.3L940.1,1305.2L941.0,1309.1L941.9,1313.0L942.8,1316.9L943.7,1320.8L944.6,1324.7L945.5,1328.6L946.3,1332.5L947.2,1336.4L948.1,1340.4L948.9,1344.3L949.8,1348.2L950.7,1352.1L951.6,1356.0L952.5,1359.9L953.5,1363.8L954.4,1367.7L955.4,1371.6L956.4,1375.5L957.3,1379.4L958.3,1383.2L959.3,1387.1L960.3,1391.0L961.2,1394.9L962.2,1398.8L963.2,1402.7L964.1,1406.6L965.1,1410.5L966.1,1414.4L967.2,1418.2L968.3,1422.0L969.6,1425.8L971.1,1429.6L972.5,1433.3L974.0,1437.0L975.5,1440.8L977.0,1444.5L978.5,1448.2L980.0,1451.9L981.4,1455.6L982.9,1459.4L984.4,1463.1L985.8,1466.9L987.2,1470.6L988.6,1474.4L990.0,1478.1L991.5,1481.9L992.9,1485.6L994.4,1489.3L996.2,1492.9L998.1,1496.3L1000.3,1499.6L1002.6,1502.9L1004.9,1506.2L1007.0,1509.5L1008.9,1513.0L1010.6,1516.7L1012.1,1520.4L1013.6,1524.1L1015.1,1527.8L1016.6,1531.5L1018.1,1535.2L1019.6,1539.0L1021.1,1542.7L1022.5,1546.4L1023.9,1550.2L1025.3,1553.9L1026.6,1557.7L1027.8,1561.5L1029.1,1565.3L1030.4,1569.1L1031.7,1573.0L1032.9,1576.8L1034.2,1580.6L1035.5,1584.4L1036.7,1588.2L1038.0,1592.0L1039.3,1595.8L1040.5,1599.6L1041.8,1603.4L1043.1,1607.2L1044.5,1610.9L1045.9,1614.7L1047.4,1618.4L1048.9,1622.1L1050.3,1625.9L1051.8,1629.6L1053.3,1633.3L1054.8,1637.0L1056.3,1640.7L1057.8,1644.5L1059.3,1648.2L1060.8,1651.9L1062.3,1655.6L1063.8,1659.3L1065.3,1663.0L1066.9,1666.7L1068.4,1670.5L1069.9,1674.2L1071.4,1677.9L1073.0,1681.6L1074.5,1685.3L1076.0,1689.0" fill="none" stroke="#00ff00" stroke-width="4.4" stroke-linejoin="round" stroke-linecap="round"/>
<path d="M352.0,1685.3L352.1,1681.3L352.3,1677.3L352.4,1673.3L352.5,1669.3L352.6,1665.3L352.8,1661.3L352.9,1657.3L353.0,1653.2L353.2,1649.2L353.3,1645.2L353.4,1641.2L353.5,1637.2L353.7,1633.2L353.8,1629.2L353.9,1625.2L354.1,1621.2L354.2,1617.2L354.3,1613.2L354.5,1609.2L354.6,1605.2L354.7,1601.2L354.8,1597.2L355.0,1593.1L355.1,1589.1L355.2,1585.1L355.4,1581.1L355.5,1577.1L355.6,1573.1L355.7,1569.1L355.9,1565.1L356.0,1561.1L356.1,1557.1L356.3,1553.1L356.4,1549.1L356.5,1545.1L356.6,1541.1L356.8,1537.1L356.9,1533.0L357.0,1529.0L357.2,1525.0L357.3,1521.0L357.4,1517.0L357.6,1513.0L357.7,1509.0L357.8,1505.0L357.9,1501.0L358.1,1497.0L358.3,1493.0L358.4,1489.0L358.7,1485.0L358.9,1481.0L359.1,1477.0L359.4,1473.0L359.7,1469.0L359.9,1465.0L360.2,1461.0L360.4,1457.0L360.6,1453.0L360.8,1449.0L361.0,1445.0L361.1,1441.0L361.3,1437.0L361.4,1432.9L361.5,1428.9L361.6,1424.9L361.7,1420.9L361.8,1416.9L362.0,1412.9L362.2,1408.9L362.4,1404.9L362.6,1400.9L362.9,1396.9L363.1,1392.9L363.4,1388.9L363.7,1384.9L364.0,1380.9L364.3,1376.9L364.7,1372.9L365.0,1368.9L365.4,1364.9L365.8,1360.9L366.2,1357.0L366.6,1353.0L367.0,1349.0L367.4,1345.0L367.8,1341.0L368.2,1337.0L368.6,1333.0L369.0,1329.0L369.4,1325.1L369.8,1321.1L370.3,1317.1L370.7,1313.1L371.2,1309.1L371.7,1305.1L372.2,1301.2L372.8,1297.2L373.3,1293.2L373.8,1289.2L374.3,1285.3L374.8,1281.3L375.3,1277.3L375.8,1273.3L376.3,1269.4L376.7,1265.4L377.2,1261.4L377.7,1257.4L378.2,1253.4L378.7,1249.5L379.2,1245.5L379.8,1241.5L380.3,1237.5L380.9,1233.6L381.5,1229.6L382.1,1225.6L382.6,1221.7L383.2,1217.7L383.8,1213.7L384.4,1209.8L385.0,1205.8L385.5,1201.8L386.1,1197.9L386.7,1193.9L387.3,1189.9L387.8,1186.0L388.4,1182.0L389.0,1178.0L389.6,1174.1L390.2,1170.1L390.7,1166.1L391.3,1162.2L391.9,1158.2L392.4,1154.2L393.0,1150.3L393.6,1146.3L394.1,1142.3L394.7,1138.4L395.3,1134.4L395.8,1130.4L396.4,1126.5L397.0,1122.5L397.6,1118.5L398.2,1114.6L398.8,1110.6L399.4,1106.6L400.1,1102.7L400.7,1098.7L401.3,1094.8L402.0,1090.8L402.6,1086.9L403.3,1082.9L404.0,1079.0L404.7,1075.0L405.4,1071.1L406.2,1067.1L407.0,1063.2L407.8,1059.3L408.6,1055.4L409.4,1051.4L410.3,1047.5L411.2,1043.6L412.1,1039.7L413.1,1035.8L414.1,1032.0L415.2,1028.1L416.2,1024.2L417.2,1020.3L418.3,1016.5L419.3,1012.6L420.3,1008.7L421.4,1004.9L422.4,1001.0L423.4,997.1L424.5,993.2L425.5,989.4L426.5,985.5L427.6,981.6L428.6,977.7L429.6,973.9L430.7,970.0L431.7,966.1L432.7,962.2L433.8,958.4L434.8,954.5L435.9,950.7L437.0,946.8L438.2,943.0L439.3,939.1L440.5,935.3L441.6,931.4L442.8,927.6L444.0,923.8L445.1,919.9L446.3,916.1L447.5,912.3L448.6,908.4L449.8,904.6L451.0,900.8L452.3,897.0L453.5,893.2L454.8,889.4L456.1,885.6L457.5,881.8L458.8,878.0L460.1,874.2L461.5,870.5L462.8,866.7L464.2,862.9L465.6,859.2L467.0,855.4L468.5,851.7L470.2,848.1L471.9,844.4L473.6,840.8L475.4,837.3L477.2,833.7L479.0,830.1L480.8,826.5L482.6,822.9L484.4,819.3L486.2,815.8L488.0,812.2L489.8,808.6L491.6,805.0L493.3,801.4L495.1,797.8L496.9,794.2L498.7,790.7L500.5,787.1L502.3,783.5L504.1,779.9L505.9,776.3L507.7,772.8L509.6,769.2L511.4,765.7L513.4,762.1L515.3,758.6L517.2,755.1L519.0,751.5L520.8,747.9L522.5,744.3L524.1,740.6L525.7,737.0L527.2,733.3L528.8,729.6L530.3,725.9L531.9,722.2L533.4,718.5L535.0,714.8L536.5,711.1L538.0,707.4L539.5,703.7L541.1,700.0L542.6,696.3L544.1,692.5L545.6,688.8L547.2,685.1L548.7,681.4L550.2,677.7L551.7,674.0L553.2,670.3L554.7,666.6L556.2,662.8L557.6,659.1L558.9,655.3L560.1,651.5L561.2,647.7L562.2,643.8L563.2,639.9L564.1,636.0L565.1,632.1L566.1,628.2L567.1,624.3L568.1,620.5L569.1,616.6L570.1,612.7L571.2,608.8L572.2,605.0L573.1,601.1L574.1,597.2L575.1,593.3L576.2,589.4L577.3,585.6L578.6,581.8L580.0,578.1L581.5,574.4L583.1,570.7L584.7,567.1L586.4,563.4L588.0,559.7L589.5,556.1L591.1,552.4L592.6,548.7L594.2,545.0L595.9,541.3L597.6,537.7L599.4,534.1L601.2,530.6L603.0,527.0L604.8,523.4L606.6,519.8L608.2,516.2L609.9,512.5L611.5,508.9L613.1,505.2L614.8,501.5L616.4,497.9L618.1,494.3L619.8,490.7L621.7,487.1L623.6,483.6L625.5,480.1L627.6,476.6L629.7,473.2L631.8,469.9L634.1,466.6L636.5,463.4L639.0,460.3L641.6,457.2L644.2,454.2L646.7,451.1L649.2,448.0L651.6,444.7L653.8,441.4L655.8,438.0L657.8,434.5L659.8,431.0L661.7,427.5L663.6,424.0L665.4,420.4L667.2,416.9L669.0,413.3L670.6,409.6L672.3,406.0L673.9,402.3L675.5,398.6L677.0,394.9L678.6,391.2L680.2,387.5L681.8,383.9L683.3,380.2L684.8,376.5L686.4,372.7L687.9,369.0L689.4,365.3L690.8,361.6L692.3,357.9L693.8,354.1L695.3,350.4L696.8,346.7L698.4,343.0L700.0,339.4L701.7,335.7L703.4,332.1L705.1,328.5L706.9,324.9L708.7,321.3L710.5,317.7L712.3,314.1L714.1,310.6L715.9,307.0L717.8,303.5L719.8,300.0L721.8,296.5L723.8,293.1L725.9,289.6L728.0,286.2L730.1,282.8L732.2,279.4L734.4,276.0L736.6,272.7L738.9,269.5L741.4,266.4L744.1,263.5L746.9,260.7L749.9,258.0L752.8,255.3L755.9,252.7L759.0,250.2L762.2,247.9L765.5,245.9L769.0,244.1L772.6,242.5L776.3,240.9L780.0,239.3L783.6,237.6L787.2,235.8L790.7,234.0L794.2,232.1L797.7,230.1L801.3,228.2L804.8,226.4L808.4,224.6L812.0,222.9L815.7,221.3L819.4,219.8L823.1,218.3L826.9,216.9L830.6,215.5L834.4,214.3L838.2,213.3L842.1,212.4L845.9,211.5L849.7,210.5L853.5,209.3L857.1,207.8L860.7,206.2L864.2,204.3L867.7,202.3L871.0,200.1L874.3,197.8L877.5,195.4L880.7,193.0L883.8,190.5L886.8,187.9L889.8,185.2L892.5,182.4L895.2,179.4L897.8,176.4L900.3,173.3L902.8,170.1L905.2,166.9L907.5,163.6L909.7,160.3L911.9,156.9L913.9,153.5L915.8,150.0L917.6,146.4L919.2,142.8L920.8,139.1L922.4,135.4L923.9,131.7L925.3,127.9L926.7,124.2L928.1,120.4L929.5,116.7L930.9,112.9L932.3,109.1L933.6,105.4L935.0,101.6" fill="none" stroke="#ff0000" stroke-width="4.4" stroke-linejoin="round" stroke-linecap="round"/>
<path d="M935.0,101.6L935.2,105.6L935.4,109.6L935.5,113.6L935.6,117.6L935.7,121.6L935.8,125.6L935.9,129.6L935.9,133.7L936.0,137.7L936.1,141.7L936.1,145.7L936.2,149.7L936.3,153.7L936.3,157.7L936.4,161.7L936.5,165.7L936.6,169.7L936.6,173.7L936.7,177.7L936.8,181.8L936.8,185.8L936.9,189.8L937.0,193.8L937.0,197.8L937.1,201.8L937.2,205.8L937.2,209.8L937.3,213.8L937.4,217.8L937.4,221.8L937.5,225.8L937.6,229.9L937.6,233.9L937.7,237.9L937.8,241.9L937.8,245.9L937.9,249.9L938.0,253.9L938.0,257.9L938.1,261.9L938.1,265.9L938.2,269.9L938.3,273.9L938.4,278.0L938.5,282.0L938.6,286.0L938.7,290.0L938.8,294.0L939.0,298.0L939.1,302.0L939.2,306.0L939.4,310.0L939.5,314.0L939.6,318.0L939.8,322.0L939.9,326.0L940.0,330.0L940.2,334.0L940.3,338.1L940.4,342.1L940.6,346.1L940.7,350.1L940.8,354.1L941.0,358.1L941.1,362.1L941.3,366.1L941.5,370.1L941.7,374.1L941.9,378.1L942.1,382.1L942.4,386.1L942.6,390.1L942.9,394.1L943.1,398.1L943.3,402.1L943.6,406.1L943.8,410.1L944.1,414.1L944.3,418.1L944.5,422.1L944.8,426.1L945.0,430.1L945.3,434.1L945.7,438.1L946.1,442.1L946.5,446.1L947.0,450.1L947.5,454.0L948.0,458.0L948.5,462.0L949.1,466.0L949.6,469.9L950.1,473.9L950.7,477.9L951.2,481.9L951.7,485.8L952.1,489.8L952.5,493.8L952.9,497.8L953.3,501.8L953.6,505.8L953.9,509.8L954.3,513.8L954.6,517.8L954.9,521.8L955.2,525.8L955.6,529.8L955.9,533.8L956.3,537.7L956.7,541.7L957.1,545.7L957.6,549.7L958.1,553.7L958.6,557.7L959.1,561.6L959.6,565.6L960.1,569.6L960.6,573.6L961.1,577.5L961.6,581.5L962.1,585.5L962.5,589.5L963.0,593.5L963.5,597.4L964.0,601.4L964.5,605.4L964.9,609.4L965.4,613.4L965.8,617.3L966.3,621.3L966.7,625.3L967.1,629.3L967.5,633.3L968.0,637.3L968.4,641.3L968.8,645.3L969.3,649.2L969.8,653.2L970.2,657.2L970.7,661.2L971.2,665.1L971.7,669.1L972.3,673.1L972.8,677.1L973.3,681.1L973.8,685.0L974.3,689.0L974.8,693.0L975.4,696.9L976.0,700.9L976.7,704.8L977.5,708.8L978.2,712.7L979.0,716.7L979.8,720.6L980.6,724.5L981.4,728.4L982.2,732.4L983.0,736.3L983.7,740.2L984.5,744.2L985.3,748.1L986.2,752.0L987.0,755.9L987.9,759.8L988.9,763.7L989.9,767.6L990.9,771.5L991.9,775.4L992.9,779.2L994.0,783.1L995.0,787.0L996.1,790.9L997.1,794.7L998.2,798.6L999.3,802.4L1000.4,806.3L1001.5,810.1L1002.7,814.0L1003.9,817.8L1005.0,821.6L1006.2,825.5L1007.4,829.3L1008.7,833.1L1010.0,836.9L1011.3,840.7L1012.7,844.4L1014.2,848.1L1015.7,851.8L1017.3,855.5L1018.8,859.2L1020.4,862.9L1021.9,866.6L1023.5,870.3L1025.1,874.0L1026.7,877.7L1028.3,881.3L1030.0,885.0L1031.6,888.6L1033.3,892.3L1035.0,895.9L1036.6,899.6L1038.3,903.2L1040.1,906.8L1041.8,910.4L1043.6,914.0L1045.4,917.6L1047.1,921.2L1048.9,924.8L1050.7,928.4L1052.6,931.9L1054.4,935.5L1056.3,939.0L1058.2,942.6L1060.2,946.0L1062.2,949.5L1064.2,953.0L1066.2,956.4L1068.2,959.9L1070.2,963.4L1072.3,966.8L1074.3,970.3L1076.3,973.8L1078.3,977.2L1080.3,980.7L1082.4,984.1L1084.4,987.6L1086.4,991.1L1088.4,994.5L1090.4,998.0L1092.4,1001.5L1094.4,1005.0L1096.4,1008.5L1098.3,1012.0L1100.3,1015.5L1102.2,1019.0L1104.1,1022.5L1106.0,1026.0L1107.9,1029.6L1109.8,1033.1L1111.7,1036.6L1113.6,1040.2L1115.4,1043.7L1117.2,1047.3L1119.0,1050.9L1120.7,1054.5L1122.4,1058.1L1124.1,1061.8L1125.8,1065.4L1127.5,1069.0L1129.2,1072.7L1130.9,1076.3L1132.6,1079.9L1134.2,1083.6L1135.8,1087.3L1137.4,1091.0L1138.9,1094.7L1140.4,1098.4L1141.8,1102.1L1143.3,1105.9L1144.7,1109.6L1146.1,1113.4L1147.4,1117.2L1148.8,1120.9L1150.1,1124.7L1151.4,1128.5L1152.7,1132.3L1154.0,1136.1L1155.3,1139.9L1156.5,1143.7L1157.8,1147.5L1159.1,1151.3L1160.4,1155.1L1161.7,1158.9L1163.0,1162.7L1164.3,1166.5L1165.7,1170.2L1167.1,1174.0L1168.5,1177.7L1169.9,1181.5L1171.3,1185.3L1172.7,1189.0L1174.0,1192.8L1175.3,1196.6L1176.5,1200.4L1177.7,1204.2L1178.8,1208.1L1179.8,1212.0L1180.8,1215.8L1181.7,1219.7L1182.7,1223.6L1183.7,1227.5L1184.6,1231.4L1185.6,1235.3L1186.6,1239.2L1187.6,1243.1L1188.6,1246.9L1189.6,1250.8L1190.7,1254.7L1191.8,1258.5L1193.0,1262.4L1194.1,1266.2L1195.3,1270.0L1196.5,1273.9L1197.7,1277.7L1199.0,1281.5L1200.3,1285.3L1201.6,1289.1L1202.9,1292.9L1204.2,1296.7L1205.4,1300.5L1206.7,1304.3L1207.9,1308.1L1209.0,1311.9L1210.2,1315.8L1211.4,1319.6L1212.5,1323.4L1213.7,1327.3L1214.8,1331.1L1216.0,1335.0L1217.1,1338.8L1218.3,1342.6L1219.4,1346.5L1220.5,1350.3L1221.6,1354.2L1222.6,1358.1L1223.7,1361.9L1224.6,1365.8L1225.6,1369.7L1226.6,1373.6L1227.6,1377.5L1228.5,1381.4L1229.5,1385.3L1230.5,1389.2L1231.5,1393.0L1232.4,1396.9L1233.4,1400.8L1234.4,1404.7L1235.4,1408.6L1236.4,1412.5L1237.4,1416.4L1238.4,1420.3L1239.3,1424.1L1240.3,1428.0L1241.3,1431.9L1242.4,1435.8L1243.4,1439.6L1244.5,1443.5L1245.6,1447.4L1246.7,1451.2L1247.8,1455.1L1249.0,1458.9L1250.2,1462.7L1251.4,1466.5L1252.6,1470.4L1253.9,1474.2L1255.2,1477.9L1256.5,1481.7L1257.9,1485.5L1259.4,1489.2L1261.0,1492.9L1262.6,1496.6L1264.2,1500.2L1265.7,1503.9L1267.2,1507.6L1268.7,1511.4L1270.0,1515.1L1271.2,1519.0L1272.3,1522.8L1273.3,1526.7L1274.4,1530.5L1275.4,1534.4L1276.4,1538.3L1277.5,1542.2L1278.5,1546.0L1279.5,1549.9L1280.5,1553.8L1281.6,1557.7L1282.5,1561.5L1283.5,1565.4L1284.5,1569.3L1285.5,1573.2L1286.5,1577.1L1287.4,1581.0L1288.4,1584.9L1289.4,1588.8L1290.4,1592.6L1291.4,1596.5L1292.5,1600.4L1293.7,1604.2L1294.9,1608.0L1296.2,1611.8L1297.6,1615.6L1299.0,1619.3L1300.3,1623.1L1301.5,1626.9L1302.6,1630.8L1303.7,1634.6L1304.6,1638.5L1305.6,1642.4L1306.5,1646.3L1307.5,1650.2L1308.4,1654.1L1309.3,1658.0L1310.2,1661.9L1311.2,1665.8L1312.1,1669.7L1313.0,1673.6L1313.9,1677.5L1314.9,1681.4L1315.8,1685.3L1316.7,1689.2" fill="none" stroke="#ff0000" stroke-width="4.4" stroke-linejoin="round" stroke-linecap="round"/>
<path d="M354.5,1686.0L354.6,1682.0L354.8,1678.0L354.9,1674.0L355.1,1670.0L355.2,1666.0L355.4,1662.0L355.5,1658.0L355.6,1654.0L355.8,1650.0L355.9,1646.0L356.1,1642.0L356.2,1638.0L356.4,1634.0L356.6,1630.0L356.7,1626.0L356.9,1622.0L357.1,1618.0L357.4,1614.0L357.6,1610.0L357.8,1606.0L358.0,1602.0L358.2,1598.0L358.4,1594.0L358.6,1590.0L358.8,1586.0L359.0,1582.0L359.3,1578.0L359.5,1574.0L359.7,1570.0L360.0,1566.0L360.3,1562.0L360.6,1558.0L361.0,1554.0L361.3,1550.0L361.7,1546.1L362.1,1542.1L362.4,1538.1L362.8,1534.1L363.2,1530.1L363.6,1526.1L363.9,1522.1L364.3,1518.1L364.7,1514.2L365.0,1510.2L365.4,1506.2L365.8,1502.2L366.1,1498.2L366.4,1494.2L366.8,1490.2L367.1,1486.2L367.4,1482.2L367.7,1478.3L368.1,1474.3L368.4,1470.3L368.7,1466.3L369.0,1462.3L369.3,1458.3L369.6,1454.3L369.9,1450.3L370.2,1446.3L370.4,1442.3L370.6,1438.3L370.9,1434.3L371.1,1430.3L371.3,1426.3L371.6,1422.3L371.9,1418.3L372.3,1414.4L372.7,1410.4L373.0,1406.4L373.4,1402.4L373.8,1398.4L374.3,1394.4L374.7,1390.5L375.2,1386.5L375.7,1382.5L376.2,1378.5L376.7,1374.6L377.2,1370.6L377.8,1366.6L378.3,1362.7L378.9,1358.7L379.5,1354.7L380.1,1350.8L380.7,1346.8L381.4,1342.9L382.0,1338.9L382.7,1335.0L383.4,1331.0L384.0,1327.1L384.7,1323.1L385.4,1319.2L386.1,1315.2L386.8,1311.3L387.4,1307.4L388.1,1303.4L388.8,1299.5L389.5,1295.5L390.2,1291.6L390.9,1287.6L391.7,1283.7L392.4,1279.8L393.2,1275.8L393.9,1271.9L394.7,1268.0L395.5,1264.0L396.3,1260.1L397.1,1256.2L397.9,1252.3L398.8,1248.4L399.7,1244.5L400.6,1240.6L401.5,1236.7L402.4,1232.8L403.3,1228.9L404.3,1225.0L405.2,1221.1L406.2,1217.2L407.1,1213.3L408.2,1209.5L409.3,1205.6L410.4,1201.8L411.7,1198.0L413.0,1194.2L414.3,1190.4L415.6,1186.6L416.9,1182.8L418.2,1179.1L419.5,1175.3L420.9,1171.5L422.2,1167.7L423.5,1164.0L424.8,1160.2L426.2,1156.4L427.5,1152.6L428.9,1148.9L430.3,1145.1L431.8,1141.4L433.4,1137.7L435.0,1134.1L436.7,1130.4L438.4,1126.8L440.1,1123.2L441.8,1119.6L443.6,1116.0L445.5,1112.5L447.3,1108.9L449.2,1105.4L451.2,1101.9L453.1,1098.4L455.1,1094.9L457.1,1091.4L459.1,1088.0L461.2,1084.6L463.3,1081.2L465.5,1077.8L467.7,1074.5L469.9,1071.2L472.2,1067.9L474.4,1064.6L476.8,1061.3L479.1,1058.1L481.5,1054.9L483.9,1051.7L486.4,1048.5L488.8,1045.3L491.2,1042.1L493.6,1038.9L495.9,1035.6L498.3,1032.4L500.6,1029.2L503.0,1025.9L505.4,1022.8L508.0,1019.7L510.6,1016.7L513.3,1013.7L516.0,1010.8L518.8,1007.9L521.6,1005.1L524.4,1002.2L527.1,999.3L529.8,996.3L532.6,993.4L535.3,990.5L538.0,987.6L540.8,984.7L543.5,981.7L546.1,978.7L548.5,975.6L550.9,972.4L553.2,969.2L555.5,965.9L557.8,962.7L560.2,959.5L562.7,956.3L565.2,953.2L567.7,950.0L570.1,946.9L572.5,943.7L574.9,940.4L577.2,937.1L579.4,933.8L581.6,930.5L583.7,927.1L585.8,923.7L587.9,920.2L589.9,916.8L591.8,913.3L593.8,909.8L595.6,906.3L597.5,902.7L599.4,899.2L601.2,895.6L603.1,892.1L604.9,888.5L606.7,884.9L608.4,881.3L610.2,877.7L611.9,874.1L613.7,870.5L615.4,866.9L617.1,863.3L618.9,859.7L620.6,856.1L622.3,852.5L624.1,848.8L625.8,845.2L627.6,841.6L629.4,838.1L631.3,834.6L633.2,831.1L635.3,827.7L637.4,824.3L639.6,820.9L641.8,817.6L644.0,814.2L646.3,810.9L648.5,807.6L650.8,804.3L652.9,801.0L654.9,797.5L656.8,794.0L658.6,790.5L660.3,786.8L662.0,783.2L663.7,779.6L665.5,776.0L667.2,772.4L669.0,768.8L670.9,765.3L672.8,761.8L674.8,758.3L676.8,754.8L678.8,751.4L680.9,748.0L683.1,744.6L685.3,741.3L687.6,738.1L690.0,734.9L692.4,731.7L694.6,728.4L696.8,725.0L699.0,721.6L701.0,718.2L703.1,714.8L705.2,711.4L707.3,708.0L709.4,704.5L711.5,701.1L713.6,697.8L715.8,694.4L718.0,691.1L720.3,687.8L722.6,684.6L725.0,681.3L727.3,678.1L729.7,674.8L732.0,671.5L734.2,668.2L736.5,664.9L738.7,661.6L740.9,658.2L743.1,654.9L745.4,651.6L747.8,648.4L750.2,645.2L752.8,642.2L755.4,639.2L758.2,636.4L761.1,633.6L764.0,630.9L767.0,628.2L770.0,625.6L773.0,622.9L775.8,620.1L778.6,617.3L781.3,614.4L784.1,611.6L786.9,608.9L790.0,606.4L793.2,604.2L796.6,602.2L800.1,600.3L803.7,598.5L807.3,596.7L810.8,594.9L814.4,593.1L818.0,591.3L821.6,589.5L825.2,587.8L828.8,586.1L832.4,584.4L836.1,582.7L839.7,581.1L843.4,579.5L847.1,578.0L850.8,576.5L854.4,575.0L858.0,573.4L861.3,571.5L864.5,569.3L867.6,566.8L870.5,564.2L873.4,561.4L876.3,558.6L879.1,555.8L881.9,552.9L884.6,549.9L887.2,547.0L889.9,543.9L892.5,540.9L895.1,537.9L897.8,534.9L900.4,531.9L903.1,528.9L905.8,526.0L908.6,523.1L911.3,520.2L914.2,517.4L917.0,514.5L919.8,511.7L922.5,508.7L925.1,505.7L927.6,502.6L930.1,499.5L932.5,496.3L934.8,493.0L936.9,489.7L938.9,486.3L940.7,482.7L942.4,479.1L944.0,475.4L945.6,471.8L947.2,468.1L948.7,464.4L950.3,460.7L951.8,457.0L953.3,453.3L954.8,449.5L956.2,445.8L957.7,442.1L959.2,438.4L960.7,434.7L962.2,431.0L963.7,427.2L965.2,423.5L966.7,419.8L968.2,416.1L969.7,412.4L971.3,408.7L972.9,405.0L974.5,401.4L976.1,397.7L977.8,394.1L979.6,390.6L981.6,387.1L983.7,383.8L986.0,380.6L988.5,377.4L991.0,374.4L993.7,371.3L996.4,368.4L999.1,365.5L1001.9,362.7L1004.9,359.9L1007.8,357.2L1010.8,354.6L1013.8,351.9L1016.7,349.2L1019.6,346.4L1022.4,343.6L1025.0,340.6L1027.5,337.5L1029.9,334.3L1032.2,331.0L1034.4,327.8L1036.7,324.5L1039.1,321.2L1041.5,318.0L1043.9,314.8L1046.3,311.6L1048.8,308.5L1051.4,305.5L1054.1,302.7L1057.0,300.0L1060.1,297.5L1063.3,295.1L1066.5,292.7L1069.8,290.4L1073.1,288.1L1076.3,285.8L1079.5,283.4L1082.7,280.9L1085.7,278.4L1088.8,275.8L1091.8,273.1L1094.8,270.5L1097.7,267.8L1100.7,265.1L1103.6,262.4L1106.5,259.6L1109.3,256.7L1111.9,253.8L1114.5,250.7L1116.9,247.5L1119.3,244.3L1121.7,241.1L1124.1,238.0L1126.6,234.8L1129.1,231.7L1131.7,228.7L1134.4,225.7L1137.0,222.7L1139.7,219.7L1142.4,216.8L1145.1,213.8L1147.9,211.0L1150.8,208.2L1153.7,205.5L1156.7,202.8L1159.7,200.2L1162.8,197.6L1165.9,195.1L1169.1,192.7L1172.4,190.4L1175.7,188.3L1179.1,186.1L1182.5,184.1L1186.0,182.0L1189.4,179.9L1192.8,177.8L1196.2,175.7L1199.5,173.5L1202.8,171.3L1206.2,169.0L1209.4,166.7L1212.7,164.4L1216.0,162.2L1219.3,159.9L1222.7,157.7L1226.1,155.6L1229.5,153.6L1233.0,151.7L1236.6,149.8L1240.1,147.9L1243.6,146.1L1247.2,144.2L1250.7,142.2L1254.2,140.3L1257.7,138.4L1261.1,136.4L1264.6,134.3L1267.9,132.2L1271.2,129.9L1274.4,127.6L1277.6,125.1L1280.7,122.7L1283.9,120.3L1287.2,118.0L1290.6,115.9L1294.0,113.9L1297.5,111.9L1301.0,110.1L1304.6,108.2L1308.1,106.3L1311.7,104.5" fill="none" stroke="#000000" stroke-width="3.6" stroke-linejoin="round" stroke-linecap="round"/>
<path d="M1311.7,104.5L1312.8,108.3L1314.0,112.2L1315.0,116.0L1315.9,119.9L1316.5,123.8L1317.0,127.7L1317.2,131.7L1317.3,135.7L1317.4,139.7L1317.4,143.7L1317.4,147.7L1317.4,151.7L1317.4,155.7L1317.4,159.7L1317.4,163.7L1317.5,167.7L1317.5,171.7L1317.6,175.7L1317.6,179.7L1317.7,183.7L1317.8,187.7L1317.8,191.7L1317.9,195.7L1318.0,199.7L1318.0,203.7L1318.1,207.7L1318.2,211.7L1318.3,215.7L1318.3,219.7L1318.4,223.7L1318.5,227.7L1318.5,231.7L1318.6,235.7L1318.7,239.7L1318.8,243.7L1318.9,247.7L1319.0,251.7L1319.1,255.7L1319.3,259.7L1319.5,263.7L1319.6,267.7L1319.8,271.7L1320.0,275.7L1320.2,279.7L1320.4,283.6L1320.6,287.6L1320.8,291.6L1321.0,295.6L1321.2,299.6L1321.4,303.6L1321.6,307.6L1321.8,311.6L1322.0,315.6L1322.2,319.6L1322.4,323.6L1322.6,327.6L1322.8,331.6L1323.1,335.6L1323.3,339.6L1323.6,343.6L1323.9,347.6L1324.2,351.6L1324.5,355.5L1324.8,359.5L1325.2,363.5L1325.5,367.5L1325.8,371.5L1326.1,375.5L1326.4,379.5L1326.8,383.5L1327.1,387.5L1327.4,391.4L1327.7,395.4L1328.1,399.4L1328.4,403.4L1328.7,407.4L1329.1,411.4L1329.4,415.4L1329.8,419.3L1330.2,423.3L1330.6,427.3L1331.0,431.3L1331.4,435.3L1331.8,439.3L1332.2,443.2L1332.6,447.2L1333.0,451.2L1333.4,455.2L1333.8,459.2L1334.2,463.1L1334.6,467.1L1335.1,471.1L1335.6,475.1L1336.1,479.0L1336.6,483.0L1337.1,487.0L1337.7,490.9L1338.2,494.9L1338.7,498.9L1339.3,502.8L1339.8,506.8L1340.4,510.7L1340.9,514.7L1341.5,518.7L1342.1,522.6L1342.7,526.6L1343.3,530.5L1343.9,534.5L1344.4,538.5L1345.0,542.4L1345.6,546.4L1346.2,550.3L1346.8,554.3L1347.4,558.2L1348.0,562.2L1348.6,566.2L1349.2,570.1L1349.7,574.1L1350.3,578.0L1350.9,582.0L1351.4,586.0L1352.0,589.9L1352.5,593.9L1353.1,597.8L1353.6,601.8L1354.1,605.8L1354.6,609.8L1355.1,613.7L1355.6,617.7L1356.1,621.7L1356.6,625.6L1357.1,629.6L1357.6,633.6L1358.1,637.5L1358.6,641.5L1359.1,645.5L1359.6,649.4L1360.2,653.4L1360.8,657.4L1361.5,661.3L1362.2,665.2L1362.9,669.2L1363.7,673.1L1364.5,677.0L1365.3,680.9L1366.1,684.9L1366.9,688.8L1367.7,692.7L1368.5,696.6L1369.2,700.5L1370.0,704.5L1370.8,708.4L1371.6,712.3L1372.4,716.2L1373.2,720.2L1373.9,724.1L1374.7,728.0L1375.5,731.9L1376.3,735.8L1377.1,739.8L1378.0,743.7L1379.0,747.6L1379.9,751.4L1380.9,755.3L1381.9,759.2L1383.0,763.0L1384.0,766.9L1385.0,770.8L1386.1,774.6L1387.1,778.5L1388.1,782.4L1389.2,786.2L1390.2,790.1L1391.2,794.0L1392.3,797.8L1393.3,801.7L1394.3,805.6L1395.4,809.4L1396.4,813.3L1397.4,817.2L1398.5,821.0L1399.5,824.9L1400.6,828.7L1401.6,832.6L1402.7,836.5L1403.8,840.3L1404.8,844.2L1405.9,848.0L1407.0,851.9L1408.0,855.7L1409.1,859.6L1410.2,863.4L1411.2,867.3L1412.3,871.1L1413.5,875.0L1414.6,878.8L1415.9,882.6L1417.3,886.3L1418.7,890.1L1420.2,893.8L1421.7,897.5L1423.3,901.2L1424.8,904.9L1426.3,908.6L1427.9,912.3L1429.4,916.0L1430.9,919.7L1432.3,923.4L1433.8,927.1L1435.2,930.9L1436.7,934.6L1438.1,938.3L1439.6,942.0L1441.0,945.8L1442.5,949.5L1443.9,953.2L1445.4,957.0L1446.9,960.7L1448.4,964.4L1449.9,968.1L1451.6,971.7L1453.3,975.3L1455.0,978.9L1456.8,982.5L1458.6,986.1L1460.4,989.6L1462.2,993.2L1464.0,996.8L1465.8,1000.4L1467.5,1004.0L1469.3,1007.6L1471.0,1011.2L1472.7,1014.8L1474.4,1018.4L1476.1,1022.0L1477.8,1025.7L1479.5,1029.3L1481.2,1032.9L1482.8,1036.6L1484.5,1040.2L1486.1,1043.9L1487.7,1047.5L1489.3,1051.2L1490.8,1054.9L1492.3,1058.6L1493.8,1062.3L1495.3,1066.1L1496.8,1069.8L1498.2,1073.5L1499.7,1077.2L1501.2,1080.9L1502.6,1084.7L1503.9,1088.4L1505.2,1092.2L1506.3,1096.0L1507.5,1099.9L1508.5,1103.7L1509.6,1107.6L1510.7,1111.4L1511.7,1115.3L1512.8,1119.2L1513.8,1123.0L1514.8,1126.9L1515.9,1130.8L1516.9,1134.6L1517.9,1138.5L1519.0,1142.4L1520.0,1146.2L1521.0,1150.1L1522.1,1154.0L1523.1,1157.8L1524.1,1161.7L1525.1,1165.6L1526.1,1169.4L1527.1,1173.3L1528.0,1177.2L1529.0,1181.1L1530.0,1185.0L1530.9,1188.9L1531.9,1192.7L1532.9,1196.6L1533.8,1200.5L1534.8,1204.4L1535.8,1208.3L1536.7,1212.2L1537.7,1216.0L1538.6,1219.9L1539.5,1223.8L1540.3,1227.7L1541.2,1231.7L1542.0,1235.6L1542.8,1239.5L1543.6,1243.4L1544.3,1247.3L1545.1,1251.3L1545.9,1255.2L1546.7,1259.1L1547.4,1263.0L1548.1,1267.0L1548.8,1270.9L1549.5,1274.9L1550.1,1278.8L1550.7,1282.8L1551.3,1286.7L1551.9,1290.7L1552.5,1294.6L1553.0,1298.6L1553.6,1302.6L1554.2,1306.5L1554.8,1310.5L1555.4,1314.4L1556.0,1318.4L1556.6,1322.4L1557.1,1326.3L1557.7,1330.3L1558.2,1334.2L1558.8,1338.2L1559.3,1342.2L1559.8,1346.1L1560.4,1350.1L1560.9,1354.1L1561.4,1358.0L1561.9,1362.0L1562.4,1366.0L1562.9,1369.9L1563.4,1373.9L1563.8,1377.9L1564.2,1381.9L1564.6,1385.9L1565.0,1389.8L1565.4,1393.8L1565.8,1397.8L1566.2,1401.8L1566.6,1405.8L1567.0,1409.7L1567.4,1413.7L1567.8,1417.7L1568.2,1421.7L1568.6,1425.7L1569.0,1429.6L1569.4,1433.6L1569.8,1437.6L1570.2,1441.6L1570.6,1445.6L1571.0,1449.6L1571.4,1453.5L1571.8,1457.5L1572.2,1461.5L1572.6,1465.5L1573.0,1469.5L1573.4,1473.4L1573.8,1477.4L1574.1,1481.4L1574.5,1485.4L1574.8,1489.4L1575.1,1493.4L1575.4,1497.4L1575.7,1501.3L1575.9,1505.3L1576.1,1509.3L1576.4,1513.3L1576.6,1517.3L1576.9,1521.3L1577.1,1525.3L1577.3,1529.3L1577.6,1533.3L1577.8,1537.3L1578.0,1541.3L1578.3,1545.3L1578.5,1549.3L1578.8,1553.3L1579.0,1557.3L1579.2,1561.3L1579.4,1565.3L1579.6,1569.2L1579.9,1573.2L1580.1,1577.2L1580.3,1581.2L1580.5,1585.2L1580.7,1589.2L1580.9,1593.2L1581.1,1597.2L1581.3,1601.2L1581.5,1605.2L1581.7,1609.2L1581.9,1613.2L1582.0,1617.2L1582.2,1621.2L1582.3,1625.2L1582.4,1629.2L1582.5,1633.2L1582.6,1637.2L1582.7,1641.2L1582.8,1645.2L1582.9,1649.2L1583.0,1653.2L1583.0,1657.2L1583.1,1661.2L1583.2,1665.2L1583.3,1669.2L1583.4,1673.2L1583.5,1677.2L1583.5,1681.2L1583.6,1685.2L1583.7,1689.2" fill="none" stroke="#000000" stroke-width="3.6" stroke-linejoin="round" stroke-linecap="round"/>
<path d="M348.5,1686.0L348.6,1682.0L348.8,1678.0L348.9,1674.0L349.1,1670.0L349.2,1666.0L349.4,1662.0L349.5,1658.0L349.6,1654.0L349.8,1650.0L349.9,1646.0L350.1,1642.0L350.3,1638.0L350.4,1634.0L350.6,1630.0L350.8,1626.0L351.1,1622.0L351.3,1618.1L351.6,1614.1L351.9,1610.1L352.1,1606.1L352.4,1602.1L352.7,1598.1L352.9,1594.1L353.2,1590.1L353.5,1586.1L353.8,1582.1L354.1,1578.1L354.3,1574.2L354.7,1570.2L355.0,1566.2L355.4,1562.2L355.8,1558.2L356.2,1554.2L356.6,1550.3L357.1,1546.3L357.5,1542.3L358.0,1538.3L358.5,1534.4L358.9,1530.4L359.4,1526.4L359.9,1522.4L360.3,1518.5L360.8,1514.5L361.3,1510.5L361.7,1506.6L362.2,1502.6L362.7,1498.6L363.1,1494.6L363.6,1490.7L364.1,1486.7L364.5,1482.7L365.0,1478.7L365.5,1474.8L365.9,1470.8L366.4,1466.8L366.9,1462.8L367.3,1458.9L367.7,1454.9L368.0,1450.9L368.4,1446.9L368.6,1442.9L368.9,1438.9L369.1,1434.9L369.3,1431.0L369.5,1427.0L369.7,1423.0L369.9,1419.0L370.1,1415.0L370.3,1411.0L370.5,1407.0L370.8,1403.0L371.1,1399.0L371.4,1395.0L371.7,1391.0L372.0,1387.0L372.4,1383.1L372.7,1379.1L373.1,1375.1L373.4,1371.1L373.8,1367.1L374.1,1363.1L374.5,1359.1L374.9,1355.2L375.3,1351.2L375.7,1347.2L376.1,1343.2L376.6,1339.2L377.0,1335.3L377.4,1331.3L377.9,1327.3L378.4,1323.4L378.9,1319.4L379.5,1315.4L380.1,1311.5L380.8,1307.6L381.6,1303.6L382.4,1299.7L383.3,1295.8L384.3,1292.0L385.2,1288.1L386.1,1284.2L387.0,1280.3L387.9,1276.4L388.8,1272.5L389.7,1268.6L390.6,1264.7L391.5,1260.8L392.4,1256.9L393.2,1253.0L394.1,1249.1L394.9,1245.1L395.7,1241.2L396.4,1237.3L397.2,1233.4L398.0,1229.4L398.7,1225.5L399.5,1221.6L400.2,1217.7L401.0,1213.7L401.8,1209.8L402.6,1205.9L403.4,1202.0L404.3,1198.1L405.3,1194.2L406.2,1190.3L407.3,1186.5L408.3,1182.6L409.4,1178.7L410.5,1174.9L411.6,1171.0L412.7,1167.2L413.8,1163.4L414.9,1159.5L416.1,1155.7L417.2,1151.9L418.4,1148.0L419.6,1144.2L420.8,1140.4L422.1,1136.6L423.3,1132.8L424.5,1129.0L425.8,1125.2L427.1,1121.4L428.5,1117.7L429.9,1113.9L431.3,1110.2L432.8,1106.5L434.3,1102.8L435.8,1099.1L437.3,1095.4L438.8,1091.7L440.3,1087.9L441.8,1084.2L443.2,1080.5L444.7,1076.8L446.2,1073.1L447.6,1069.3L449.1,1065.6L450.6,1061.9L452.0,1058.2L453.5,1054.5L455.1,1050.8L456.6,1047.1L458.2,1043.4L459.8,1039.8L461.5,1036.1L463.2,1032.5L464.9,1028.9L466.7,1025.3L468.5,1021.7L470.3,1018.2L472.2,1014.6L474.1,1011.1L476.0,1007.6L478.0,1004.2L480.0,1000.7L482.1,997.3L484.3,994.0L486.5,990.7L488.8,987.4L491.0,984.1L493.1,980.8L495.2,977.4L497.1,973.9L498.9,970.4L500.6,966.8L502.3,963.2L504.0,959.6L505.8,956.0L507.7,952.5L509.7,949.0L511.8,945.6L513.9,942.3L516.1,938.9L518.3,935.6L520.6,932.3L522.8,929.0L525.1,925.7L527.3,922.3L529.5,919.0L531.7,915.7L534.0,912.4L536.2,909.1L538.5,905.8L540.8,902.5L543.1,899.3L545.6,896.1L548.0,893.0L550.6,889.9L553.2,886.9L555.8,883.8L558.4,880.8L561.1,877.9L563.8,874.9L566.6,872.0L569.4,869.2L572.2,866.4L575.1,863.6L577.9,860.8L580.8,858.0L583.7,855.2L586.5,852.4L589.4,849.6L592.2,846.7L595.0,843.9L597.7,841.0L600.5,838.1L603.3,835.2L606.1,832.4L608.9,829.5L611.7,826.7L614.5,823.8L617.4,821.0L620.2,818.2L623.1,815.4L626.0,812.7L628.9,809.9L631.8,807.2L634.7,804.4L637.7,801.8L640.7,799.1L643.7,796.5L646.8,794.0L649.9,791.4L652.9,788.9L656.0,786.3L659.1,783.8L662.2,781.2L665.3,778.7L668.4,776.2L671.5,773.7L674.7,771.2L677.9,768.8L681.1,766.5L684.3,764.2L687.7,761.9L691.0,759.7L694.4,757.6L697.7,755.4L701.0,753.2L704.3,750.9L707.5,748.6L710.7,746.1L713.8,743.6L716.9,741.1L719.9,738.5L723.0,735.9L726.0,733.2L728.9,730.6L731.8,727.8L734.7,725.1L737.6,722.3L740.5,719.5L743.3,716.7L746.1,713.9L749.0,711.0L751.8,708.2L754.6,705.4L757.5,702.5L760.3,699.7L763.1,696.9L765.9,694.1L768.8,691.2L771.6,688.4L774.4,685.6L777.3,682.7L780.1,679.9L782.9,677.1L785.7,674.3L788.6,671.4L791.4,668.6L794.2,665.8L797.1,662.9L799.9,660.1L802.7,657.3L805.5,654.5L808.4,651.6L811.2,648.8L814.0,646.0L816.9,643.1L819.7,640.3L822.5,637.5L825.4,634.7L828.2,631.9L831.1,629.1L834.0,626.3L836.9,623.6L839.8,620.8L842.7,618.1L845.7,615.4L848.6,612.7L851.6,610.1L854.6,607.4L857.7,604.8L860.7,602.2L863.6,599.5L866.6,596.8L869.5,594.1L872.4,591.3L875.3,588.6L878.3,586.0L881.3,583.3L884.4,580.8L887.5,578.3L890.7,575.8L893.9,573.4L897.1,571.1L900.3,568.7L903.5,566.4L906.7,564.0L909.9,561.6L913.1,559.2L916.3,556.8L919.5,554.4L922.7,552.0L925.8,549.5L928.8,546.9L931.8,544.2L934.7,541.5L937.6,538.7L940.4,535.9L943.2,533.1L945.9,530.1L948.5,527.2L951.1,524.1L953.4,520.9L955.7,517.7L957.9,514.3L959.9,510.9L962.0,507.5L963.9,504.0L965.9,500.5L967.7,497.0L969.5,493.4L971.2,489.8L972.7,486.1L974.3,482.4L975.8,478.7L977.3,475.0L978.8,471.4L980.4,467.7L982.0,464.1L983.7,460.4L985.4,456.8L987.0,453.1L988.7,449.5L990.4,445.9L992.0,442.2L993.7,438.6L995.3,434.9L997.0,431.3L998.7,427.7L1000.3,424.0L1002.0,420.4L1003.8,416.8L1005.6,413.3L1007.5,409.7L1009.4,406.2L1011.3,402.7L1013.3,399.3L1015.3,395.8L1017.4,392.4L1019.4,389.0L1021.6,385.6L1023.7,382.2L1026.0,379.0L1028.4,375.7L1030.8,372.6L1033.3,369.4L1035.8,366.3L1038.4,363.3L1040.9,360.2L1043.5,357.1L1046.1,354.1L1048.7,351.1L1051.4,348.2L1054.2,345.3L1057.0,342.5L1059.9,339.7L1062.9,337.0L1065.9,334.4L1068.9,331.8L1071.9,329.1L1074.9,326.5L1077.9,323.9L1081.0,321.3L1084.0,318.6L1087.0,316.0L1090.1,313.5L1093.1,310.9L1096.2,308.4L1099.4,305.9L1102.5,303.4L1105.7,301.0L1108.9,298.6L1112.2,296.3L1115.4,293.9L1118.6,291.5L1121.8,289.2L1125.1,286.8L1128.3,284.5L1131.5,282.1L1134.8,279.8L1138.0,277.4L1141.3,275.1L1144.5,272.8L1147.8,270.5L1151.1,268.2L1154.3,265.9L1157.6,263.6L1160.9,261.3L1164.2,259.0L1167.4,256.7L1170.7,254.4L1174.0,252.1L1177.3,249.8L1180.6,247.6L1183.9,245.3L1187.3,243.1L1190.6,241.0L1194.0,238.8L1197.3,236.6L1200.7,234.5L1204.1,232.3L1207.5,230.2L1210.9,228.1L1214.2,225.9L1217.6,223.8L1221.0,221.6L1224.3,219.4L1227.7,217.3L1231.0,215.1L1234.4,212.9L1237.7,210.6L1241.0,208.4L1244.4,206.2L1247.7,204.0L1251.0,201.8L1254.4,199.6L1257.7,197.3L1261.0,195.1L1264.3,192.8L1267.6,190.6L1270.9,188.3L1274.1,186.0L1277.4,183.6L1280.6,181.3L1283.9,178.9L1287.1,176.6L1290.3,174.2L1293.5,171.8L1296.7,169.4L1299.9,167.0L1303.1,164.6L1306.2,162.0L1309.2,159.5L1312.2,156.8L1315.1,154.1L1318.0,151.3L1320.8,148.5L1323.7,145.7L1326.5,142.9L1329.3,140.0L1332.0,137.1L1334.6,134.1L1337.2,131.1L1339.7,127.9L1342.1,124.7L1344.4,121.5L1346.7,118.2L1348.9,114.9L1351.1,111.6L1353.4,108.3L1355.6,104.9L1357.8,101.6" fill="none" stroke="#0000ff" stroke-width="4.0" stroke-linejoin="round" stroke-linecap="round"/>
<path d="M1357.8,101.6L1359.3,105.3L1360.7,109.0L1362.1,112.8L1363.4,116.5L1364.6,120.3L1365.4,124.2L1366.1,128.1L1366.4,132.0L1366.6,136.0L1366.8,140.0L1366.9,144.0L1367.0,148.0L1367.1,152.0L1367.2,156.0L1367.3,160.0L1367.4,164.0L1367.5,168.0L1367.6,172.0L1367.7,176.0L1367.9,180.0L1368.1,184.0L1368.3,187.9L1368.5,191.9L1368.7,195.9L1369.0,199.9L1369.2,203.9L1369.5,207.9L1369.7,211.9L1369.9,215.9L1370.2,219.9L1370.4,223.9L1370.7,227.9L1370.9,231.9L1371.2,235.9L1371.4,239.9L1371.7,243.9L1371.9,247.9L1372.2,251.8L1372.5,255.8L1372.8,259.8L1373.1,263.8L1373.4,267.8L1373.7,271.8L1374.0,275.8L1374.3,279.8L1374.7,283.8L1375.0,287.7L1375.3,291.7L1375.6,295.7L1375.9,299.7L1376.2,303.7L1376.5,307.7L1376.9,311.7L1377.2,315.7L1377.5,319.7L1377.9,323.6L1378.2,327.6L1378.6,331.6L1379.0,335.6L1379.4,339.6L1379.8,343.6L1380.2,347.5L1380.6,351.5L1381.0,355.5L1381.4,359.5L1381.8,363.5L1382.2,367.4L1382.6,371.4L1383.0,375.4L1383.4,379.4L1383.8,383.4L1384.2,387.4L1384.6,391.3L1385.0,395.3L1385.4,399.3L1385.8,403.3L1386.2,407.3L1386.6,411.2L1387.0,415.2L1387.4,419.2L1387.8,423.2L1388.2,427.2L1388.6,431.1L1388.9,435.1L1389.3,439.1L1389.7,443.1L1390.1,447.1L1390.5,451.1L1390.9,455.0L1391.4,459.0L1391.8,463.0L1392.3,467.0L1392.8,470.9L1393.3,474.9L1393.9,478.8L1394.5,482.8L1395.2,486.8L1395.8,490.7L1396.4,494.7L1397.1,498.6L1397.7,502.6L1398.3,506.5L1399.0,510.5L1399.6,514.4L1400.2,518.4L1400.8,522.3L1401.5,526.3L1402.1,530.2L1402.8,534.2L1403.5,538.1L1404.2,542.0L1405.0,545.9L1405.8,549.9L1406.7,553.8L1407.5,557.7L1408.4,561.6L1409.2,565.5L1410.1,569.4L1410.9,573.3L1411.8,577.2L1412.7,581.1L1413.5,585.0L1414.4,589.0L1415.3,592.9L1416.1,596.8L1417.0,600.7L1418.0,604.5L1418.9,608.4L1419.9,612.3L1420.9,616.2L1421.8,620.1L1422.8,624.0L1423.8,627.8L1424.8,631.7L1425.8,635.6L1426.8,639.4L1427.9,643.3L1428.9,647.2L1429.9,651.0L1431.0,654.9L1432.0,658.8L1433.0,662.6L1434.1,666.5L1435.3,670.3L1436.4,674.1L1437.7,677.9L1439.0,681.7L1440.3,685.5L1441.6,689.3L1442.9,693.1L1444.3,696.8L1445.6,700.6L1446.9,704.4L1448.3,708.1L1449.6,711.9L1451.0,715.7L1452.3,719.4L1453.7,723.2L1455.1,726.9L1456.5,730.7L1458.0,734.4L1459.4,738.2L1460.8,741.9L1462.3,745.6L1463.7,749.3L1465.2,753.1L1466.8,756.8L1468.3,760.4L1469.9,764.1L1471.6,767.7L1473.3,771.4L1475.0,775.0L1476.7,778.6L1478.3,782.2L1480.0,785.9L1481.8,789.5L1483.5,793.1L1485.2,796.7L1487.1,800.2L1489.0,803.7L1491.0,807.2L1493.0,810.7L1495.1,814.1L1497.2,817.5L1499.2,820.9L1501.3,824.3L1503.4,827.7L1505.5,831.1L1507.6,834.6L1509.6,838.0L1511.7,841.4L1513.7,844.9L1515.7,848.4L1517.7,851.8L1519.7,855.3L1521.7,858.8L1523.7,862.2L1525.7,865.7L1527.7,869.2L1529.7,872.6L1531.9,875.9L1534.1,879.2L1536.5,882.4L1539.0,885.5L1541.6,888.6L1544.2,891.6L1546.8,894.6L1549.4,897.7L1552.0,900.7L1554.6,903.8L1557.1,906.9L1559.7,910.0L1562.2,913.1L1564.7,916.2L1567.2,919.3L1569.6,922.5L1572.1,925.6L1574.5,928.8L1576.7,932.1L1578.9,935.4L1581.0,938.8L1583.1,942.3L1585.1,945.7L1587.1,949.2L1589.1,952.6L1591.1,956.1L1593.1,959.6L1595.0,963.1L1596.9,966.6L1598.7,970.2L1600.4,973.8L1602.2,977.4L1603.8,981.0L1605.5,984.7L1607.2,988.3L1608.9,991.9L1610.6,995.6L1612.2,999.2L1613.9,1002.9L1615.5,1006.5L1617.1,1010.2L1618.7,1013.9L1620.2,1017.5L1621.8,1021.2L1623.4,1024.9L1625.0,1028.6L1626.6,1032.2L1628.1,1035.9L1629.7,1039.6L1631.2,1043.3L1632.6,1047.0L1634.1,1050.8L1635.5,1054.5L1636.9,1058.2L1638.3,1062.0L1639.7,1065.7L1641.2,1069.5L1642.6,1073.2L1644.0,1077.0L1645.3,1080.7L1646.7,1084.5L1648.0,1088.3L1649.2,1092.1L1650.4,1095.9L1651.6,1099.7L1652.7,1103.6L1653.9,1107.4L1655.0,1111.2L1656.1,1115.1L1657.3,1118.9L1658.5,1122.7L1659.7,1126.5L1660.9,1130.3L1662.2,1134.1L1663.5,1137.9L1664.7,1141.7L1666.0,1145.5L1667.3,1149.3L1668.5,1153.1L1669.8,1156.9L1671.1,1160.7L1672.4,1164.4L1673.8,1168.2L1675.2,1172.0L1676.6,1175.7L1678.1,1179.4L1679.5,1183.2L1680.9,1186.9L1682.4,1190.6L1683.8,1194.4L1685.1,1198.1L1686.4,1201.9L1687.6,1205.7L1688.8,1209.6L1689.9,1213.4L1690.9,1217.3L1691.9,1221.1L1693.0,1225.0L1694.0,1228.9L1695.0,1232.7L1696.1,1236.6L1697.1,1240.5L1698.0,1244.4L1699.0,1248.2L1699.9,1252.1L1700.7,1256.0L1701.6,1260.0L1702.4,1263.9L1703.3,1267.8L1704.1,1271.7L1704.9,1275.6L1705.7,1279.5L1706.5,1283.4L1707.3,1287.4L1708.1,1291.3L1708.8,1295.2L1709.4,1299.2L1710.1,1303.1L1710.8,1307.1L1711.4,1311.0L1712.1,1315.0L1712.8,1318.9L1713.4,1322.9L1714.0,1326.8L1714.7,1330.8L1715.3,1334.7L1715.8,1338.7L1716.4,1342.6L1717.0,1346.6L1717.5,1350.6L1718.1,1354.5L1718.6,1358.5L1719.1,1362.5L1719.7,1366.4L1720.2,1370.4L1720.8,1374.3L1721.3,1378.3L1721.8,1382.3L1722.3,1386.3L1722.7,1390.2L1723.2,1394.2L1723.6,1398.2L1724.0,1402.2L1724.4,1406.1L1724.8,1410.1L1725.2,1414.1L1725.6,1418.1L1726.0,1422.1L1726.4,1426.1L1726.8,1430.0L1727.2,1434.0L1727.6,1438.0L1728.0,1442.0L1728.5,1446.0L1728.9,1449.9L1729.4,1453.9L1729.9,1457.9L1730.4,1461.8L1730.9,1465.8L1731.4,1469.8L1731.9,1473.7L1732.4,1477.7L1732.9,1481.7L1733.4,1485.7L1733.9,1489.6L1734.4,1493.6L1734.8,1497.6L1735.3,1501.5L1735.8,1505.5L1736.2,1509.5L1736.6,1513.5L1737.0,1517.5L1737.4,1521.4L1737.8,1525.4L1738.2,1529.4L1738.6,1533.4L1739.0,1537.4L1739.4,1541.3L1739.8,1545.3L1740.2,1549.3L1740.6,1553.3L1740.9,1557.3L1741.3,1561.3L1741.6,1565.3L1741.8,1569.2L1742.0,1573.2L1742.3,1577.2L1742.5,1581.2L1742.7,1585.2L1742.9,1589.2L1743.1,1593.2L1743.3,1597.2L1743.5,1601.2L1743.7,1605.2L1743.9,1609.2L1744.1,1613.2L1744.2,1617.2L1744.4,1621.2L1744.5,1625.2L1744.6,1629.2L1744.7,1633.2L1744.8,1637.2L1744.9,1641.2L1745.0,1645.2L1745.1,1649.2L1745.2,1653.2L1745.2,1657.2L1745.3,1661.2L1745.4,1665.2L1745.5,1669.2L1745.6,1673.2L1745.7,1677.2L1745.7,1681.2L1745.8,1685.2L1745.9,1689.2" fill="none" stroke="#0000ff" stroke-width="4.0" stroke-linejoin="round" stroke-linecap="round"/>
<text x="1462.4" y="123.3" fill="#0000ff" class="lg">1 mA.cm<tspan x="1743.3" y="87.5" class="mn">−</tspan><tspan x="1769.3" y="87" class="sp">2</tspan></text>
<text x="1471" y="208.2" fill="#000000" class="lg">2 mA.cm<tspan x="1754.1" y="173.5" class="mn">−</tspan><tspan x="1777.7" y="172.5" class="sp">2</tspan></text>
<text x="1478" y="298" fill="#ff0000" class="lg">5 mA.cm<tspan x="1759.2" y="261" class="mn">−</tspan><tspan x="1780.1" y="259.9" class="sp">2</tspan></text>
<text x="1480" y="382.7" fill="#00ff00" class="lg">8 mA.cm<tspan x="1762.1" y="348.2" class="mn">−</tspan><tspan x="1783.3" y="346.2" class="sp">2</tspan></text>
<text x="1450.4" y="461.6" fill="#ff00ff" class="lg">10 mA.cm<tspan x="1770" y="427.1" class="mn">−</tspan><tspan x="1791.4" y="425.2" class="sp">2</tspan></text>
</svg>
</body></html>
